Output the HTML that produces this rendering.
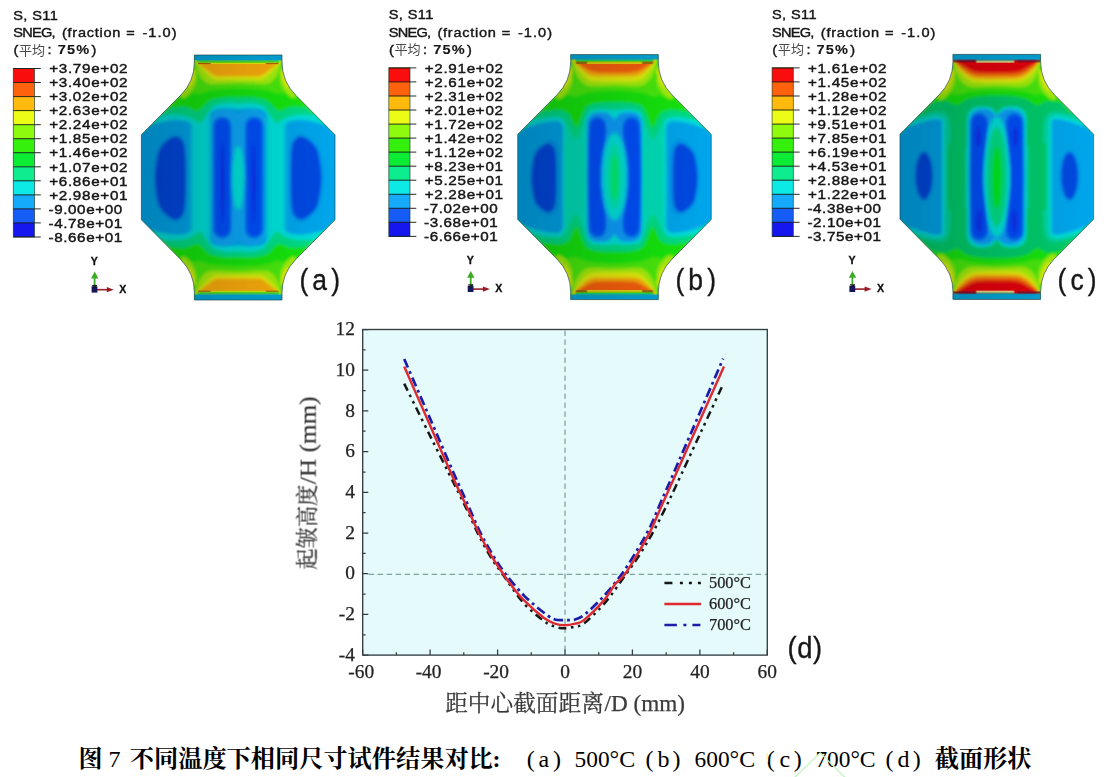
<!DOCTYPE html>
<html><head><meta charset="utf-8"><title>Figure 7</title>
<style>
html,body{margin:0;padding:0;background:#fff;}
body{width:1110px;height:777px;overflow:hidden;font-family:"Liberation Sans",sans-serif;}
svg{position:absolute;left:0;top:0;display:block}
text{white-space:pre}
.ls{font-family:"Liberation Sans",sans-serif}
.lf{font-family:"Liberation Serif",serif}
.lsc{font-family:"Liberation Sans","Noto Sans CJK SC",sans-serif}
.lfc{font-family:"Liberation Serif","Noto Serif CJK SC",serif}
</style></head><body>
<svg width="1110" height="777" viewBox="0 0 1110 777">
<defs>
<linearGradient id="shade" gradientUnits="userSpaceOnUse" x1="141" y1="0" x2="335" y2="0"><stop offset="0" stop-color="#000" stop-opacity="0.21"/><stop offset="0.5" stop-color="#000" stop-opacity="0.10"/><stop offset="1" stop-color="#000" stop-opacity="0"/></linearGradient>
<filter id="blur" x="-10%" y="-10%" width="120%" height="120%"><feGaussianBlur stdDeviation="1.35"/></filter>
<filter id="blur0" x="-30%" y="-10%" width="160%" height="120%"><feGaussianBlur stdDeviation="1.6"/></filter>
<filter id="blur2" x="-10%" y="-10%" width="120%" height="120%"><feGaussianBlur stdDeviation="3"/></filter>
<filter id="soft" x="-5%" y="-5%" width="110%" height="110%"><feGaussianBlur stdDeviation="0.45"/></filter>
<filter id="soft1" x="-5%" y="-5%" width="110%" height="110%"><feGaussianBlur stdDeviation="0.55"/></filter>
<filter id="soft2" x="-5%" y="-5%" width="110%" height="110%"><feGaussianBlur stdDeviation="0.6"/></filter>
</defs>
<g transform="translate(0,0)"><clipPath id="clip1"><path d="M194.4,55 H282 V62 Q282,81.5 295.8,95.3 L335,134.8 V219.8 L295.8,259.4 Q282,273.2 282,292.7 V300 H194.4 V292.7 Q194.4,273.2 180.6,259.4 L141.4,219.8 V134.8 L180.6,95.3 Q194.4,81.5 194.4,62 Z"/></clipPath><g clip-path="url(#clip1)"><g filter="url(#blur)"><rect x="120" y="36" width="240" height="284" rx="0" fill="rgb(0,166,236)"/><rect x="191.5" y="106" width="18.4" height="143" rx="9" fill="rgb(0,224,218)" filter="url(#blur0)"/><g transform="translate(476.4,0) scale(-1,1)"><rect x="191.5" y="106" width="18.4" height="143" rx="9" fill="rgb(0,224,218)" filter="url(#blur0)"/></g><path d="M132,143 L150,125 C153.3,124.2 164,121.2 170,120.5 C176,119.8 181,119.8 186,121 C191,122.2 195.8,129.5 200,128 C204.2,126.5 207.3,115.2 211,112 C214.7,108.8 217.5,109 222,108.5 C226.5,108 232.8,109 238.2,109 C243.6,109 249.9,108 254.4,108.5 C258.9,109 261.7,108.8 265.4,112 C269.1,115.2 272.2,126.5 276.4,128 C280.6,129.5 285.4,122.2 290.4,121 C295.4,119.8 300.4,119.8 306.4,120.5 C312.4,121.2 323.1,124.2 326.4,125 L344.4,143 V30 H132 Z" fill="rgb(0,224,218)"/><path d="M142,133 L160,115 C163.3,115 174.7,114.4 180,115 C185.3,115.6 188.7,117.2 192,118.5 C195.3,119.8 197.3,123.9 200,123 C202.7,122.1 205.7,115.8 208,113 C210.3,110.2 211,107.7 214,106 C217,104.3 222,103.4 226,103 C230,102.6 234.1,103.5 238.2,103.5 C242.3,103.5 246.4,102.6 250.4,103 C254.4,103.4 259.4,104.3 262.4,106 C265.4,107.7 266.1,110.2 268.4,113 C270.7,115.8 273.7,122.1 276.4,123 C279.1,123.9 281.1,119.8 284.4,118.5 C287.7,117.2 291.1,115.6 296.4,115 C301.7,114.4 313.1,115 316.4,115 L334.4,133 V30 H142 Z" fill="rgb(0,222,134)"/><path d="M150,126 L168,108 C170.8,107.8 180.2,106.5 185,107 C189.8,107.5 193.8,111.2 197,111 C200.2,110.8 201.8,107.8 204,106 C206.2,104.2 206.7,101.9 210,100.5 C213.3,99.1 219.3,98 224,97.5 C228.7,97 233.5,97.5 238.2,97.5 C242.9,97.5 247.7,97 252.4,97.5 C257.1,98 263.1,99.1 266.4,100.5 C269.7,101.9 270.2,104.2 272.4,106 C274.6,107.8 276.2,110.8 279.4,111 C282.6,111.2 286.6,107.5 291.4,107 C296.2,106.5 305.6,107.8 308.4,108 L326.4,126 V30 H150 Z" fill="rgb(18,230,12)"/><path d="M163,113.5 L181,95.5 C182.5,95.1 186.8,93.3 190,93 C193.2,92.7 196.3,94 200,93.5 C203.7,93 205.6,90.8 212,90 C218.4,89.2 229.5,88.5 238.2,88.5 C246.9,88.5 258,89.2 264.4,90 C270.8,90.8 272.7,93 276.4,93.5 C280.1,94 283.2,92.7 286.4,93 C289.6,93.3 293.9,95.1 295.4,95.5 L313.4,113.5 V30 H163 Z" fill="rgb(74,234,8)"/><path d="M195.6,50 L195.6,63 C196.2,65 197.8,71.8 199.5,75 C201.2,78.2 203.4,80.9 206,82.4 C208.6,83.9 209.6,83.9 215,84 C220.4,84.1 230.5,83 238.2,83 C245.9,83 256,84.1 261.4,84 C266.8,83.9 267.8,83.9 270.4,82.4 C273,80.9 275.2,78.2 276.9,75 C278.6,71.8 280.1,65 280.8,63 L280.8,50 Z" fill="rgb(164,240,8)"/><ellipse cx="188.4" cy="86.5" rx="5" ry="13" fill="rgb(164,240,8)" transform="rotate(30 188.4 86.5)"/><g transform="translate(476.4,0) scale(-1,1)"><ellipse cx="188.4" cy="86.5" rx="5" ry="13" fill="rgb(164,240,8)" transform="rotate(30 188.4 86.5)"/></g><ellipse cx="191.6" cy="78.5" rx="2.4" ry="10" fill="rgb(228,240,10)" transform="rotate(20 191.6 78.5)"/><g transform="translate(476.4,0) scale(-1,1)"><ellipse cx="191.6" cy="78.5" rx="2.4" ry="10" fill="rgb(228,240,10)" transform="rotate(20 191.6 78.5)"/></g><path d="M196.5,50 L196.5,63 C197.9,64.5 202.1,69.3 205,72 C207.9,74.7 210.5,78.1 214,79.4 C217.5,80.7 222,79.7 226,79.8 C230,79.9 234.1,79.8 238.2,79.8 C242.3,79.8 246.4,79.9 250.4,79.8 C254.4,79.7 258.9,80.7 262.4,79.4 C265.9,78.1 268.5,74.7 271.4,72 C274.3,69.3 278.5,64.5 279.9,63 L279.9,50 Z" fill="rgb(228,240,10)"/><path d="M198.5,50 L198.5,63 C199.9,64.2 204.2,67.9 207,70 C209.8,72.1 212.3,74.8 215.5,75.8 C218.7,76.8 222.2,76.1 226,76.2 C229.8,76.3 234.1,76.2 238.2,76.2 C242.3,76.2 246.6,76.3 250.4,76.2 C254.2,76.1 257.7,76.8 260.9,75.8 C264.1,74.8 266.6,72.1 269.4,70 C272.2,67.9 276.5,64.2 277.9,63 L277.9,50 Z" fill="rgb(250,172,8)"/><g transform="translate(0,354.8) scale(1,-1)"><path d="M132,143 L150,125 C153.3,124.2 164,121.2 170,120.5 C176,119.8 181,119.8 186,121 C191,122.2 195.8,129.5 200,128 C204.2,126.5 207.3,115.2 211,112 C214.7,108.8 217.5,109 222,108.5 C226.5,108 232.8,109 238.2,109 C243.6,109 249.9,108 254.4,108.5 C258.9,109 261.7,108.8 265.4,112 C269.1,115.2 272.2,126.5 276.4,128 C280.6,129.5 285.4,122.2 290.4,121 C295.4,119.8 300.4,119.8 306.4,120.5 C312.4,121.2 323.1,124.2 326.4,125 L344.4,143 V30 H132 Z" fill="rgb(0,224,218)"/><path d="M142,133 L160,115 C163.3,115 174.7,114.4 180,115 C185.3,115.6 188.7,117.2 192,118.5 C195.3,119.8 197.3,123.9 200,123 C202.7,122.1 205.7,115.8 208,113 C210.3,110.2 211,107.7 214,106 C217,104.3 222,103.4 226,103 C230,102.6 234.1,103.5 238.2,103.5 C242.3,103.5 246.4,102.6 250.4,103 C254.4,103.4 259.4,104.3 262.4,106 C265.4,107.7 266.1,110.2 268.4,113 C270.7,115.8 273.7,122.1 276.4,123 C279.1,123.9 281.1,119.8 284.4,118.5 C287.7,117.2 291.1,115.6 296.4,115 C301.7,114.4 313.1,115 316.4,115 L334.4,133 V30 H142 Z" fill="rgb(0,222,134)"/><path d="M150,126 L168,108 C170.8,107.8 180.2,106.5 185,107 C189.8,107.5 193.8,111.2 197,111 C200.2,110.8 201.8,107.8 204,106 C206.2,104.2 206.7,101.9 210,100.5 C213.3,99.1 219.3,98 224,97.5 C228.7,97 233.5,97.5 238.2,97.5 C242.9,97.5 247.7,97 252.4,97.5 C257.1,98 263.1,99.1 266.4,100.5 C269.7,101.9 270.2,104.2 272.4,106 C274.6,107.8 276.2,110.8 279.4,111 C282.6,111.2 286.6,107.5 291.4,107 C296.2,106.5 305.6,107.8 308.4,108 L326.4,126 V30 H150 Z" fill="rgb(18,230,12)"/><path d="M163,113.5 L181,95.5 C182.5,95.1 186.8,93.3 190,93 C193.2,92.7 196.3,94 200,93.5 C203.7,93 205.6,90.8 212,90 C218.4,89.2 229.5,88.5 238.2,88.5 C246.9,88.5 258,89.2 264.4,90 C270.8,90.8 272.7,93 276.4,93.5 C280.1,94 283.2,92.7 286.4,93 C289.6,93.3 293.9,95.1 295.4,95.5 L313.4,113.5 V30 H163 Z" fill="rgb(74,234,8)"/><path d="M195.6,50 L195.6,63 C196.2,65 197.8,71.8 199.5,75 C201.2,78.2 203.4,80.9 206,82.4 C208.6,83.9 209.6,83.9 215,84 C220.4,84.1 230.5,83 238.2,83 C245.9,83 256,84.1 261.4,84 C266.8,83.9 267.8,83.9 270.4,82.4 C273,80.9 275.2,78.2 276.9,75 C278.6,71.8 280.1,65 280.8,63 L280.8,50 Z" fill="rgb(164,240,8)"/><ellipse cx="188.4" cy="86.5" rx="5" ry="13" fill="rgb(164,240,8)" transform="rotate(30 188.4 86.5)"/><g transform="translate(476.4,0) scale(-1,1)"><ellipse cx="188.4" cy="86.5" rx="5" ry="13" fill="rgb(164,240,8)" transform="rotate(30 188.4 86.5)"/></g><ellipse cx="191.6" cy="78.5" rx="2.4" ry="10" fill="rgb(228,240,10)" transform="rotate(20 191.6 78.5)"/><g transform="translate(476.4,0) scale(-1,1)"><ellipse cx="191.6" cy="78.5" rx="2.4" ry="10" fill="rgb(228,240,10)" transform="rotate(20 191.6 78.5)"/></g><path d="M196.5,50 L196.5,63 C197.9,64.5 202.1,69.3 205,72 C207.9,74.7 210.5,78.1 214,79.4 C217.5,80.7 222,79.7 226,79.8 C230,79.9 234.1,79.8 238.2,79.8 C242.3,79.8 246.4,79.9 250.4,79.8 C254.4,79.7 258.9,80.7 262.4,79.4 C265.9,78.1 268.5,74.7 271.4,72 C274.3,69.3 278.5,64.5 279.9,63 L279.9,50 Z" fill="rgb(228,240,10)"/><path d="M198.5,50 L198.5,63 C199.9,64.2 204.2,67.9 207,70 C209.8,72.1 212.3,74.8 215.5,75.8 C218.7,76.8 222.2,76.1 226,76.2 C229.8,76.3 234.1,76.2 238.2,76.2 C242.3,76.2 246.6,76.3 250.4,76.2 C254.2,76.1 257.7,76.8 260.9,75.8 C264.1,74.8 266.6,72.1 269.4,70 C272.2,67.9 276.5,64.2 277.9,63 L277.9,50 Z" fill="rgb(250,172,8)"/></g><path d="M211.2,121.4 Q211.2,109.4 223.2,109.4 L226.2,109.4 Q234.2,109.4 238.2,115.4 Q242.2,109.4 250.2,109.4 L253.2,109.4 Q265.2,109.4 265.2,121.4 V233.4 Q265.2,245.4 253.2,245.4 L250.2,245.4 Q242.2,245.4 238.2,239.4 Q234.2,245.4 226.2,245.4 L223.2,245.4 Q211.2,245.4 211.2,233.4 Z" fill="rgb(8,166,246)"/><rect x="213" y="116.6" width="18.4" height="121.8" rx="9.2" fill="rgb(6,116,244)"/><g transform="translate(476.4,0) scale(-1,1)"><rect x="213" y="116.6" width="18.4" height="121.8" rx="9.2" fill="rgb(6,116,244)"/></g><rect x="214.4" y="118.4" width="15.6" height="118.2" rx="7.8" fill="rgb(5,80,250)"/><g transform="translate(476.4,0) scale(-1,1)"><rect x="214.4" y="118.4" width="15.6" height="118.2" rx="7.8" fill="rgb(5,80,250)"/></g><ellipse cx="238.2" cy="178" rx="7.6" ry="35" fill="rgb(8,170,244)"/><ellipse cx="238.2" cy="178" rx="5.8" ry="32" fill="rgb(0,224,218)"/><ellipse cx="222.6" cy="183" rx="1.3" ry="40" fill="rgb(10,30,234)"/><g transform="translate(476.4,0) scale(-1,1)"><ellipse cx="222.6" cy="183" rx="1.3" ry="40" fill="rgb(10,30,234)"/></g><path d="M176.6,134 C178.9,134.1 180.8,135.5 182.3,137.1 C183.8,138.6 184.9,139.8 185.7,143.4 C186.5,147 186.9,153.1 187.2,158.8 C187.5,164.6 187.4,171.6 187.4,178 C187.4,184.4 187.5,191.4 187.2,197.2 C186.9,202.9 186.5,209 185.7,212.6 C184.9,216.2 183.8,217.4 182.3,218.9 C180.8,220.5 178.9,221.9 176.6,222 C174.4,222.1 171.6,220.9 169,219.4 C166.4,217.8 163.1,215 161.1,212.8 C159.1,210.5 158.1,209.2 156.9,205.6 C155.7,202.1 154.6,196 153.9,191.4 C153.3,186.8 152.8,182.5 152.8,178 C152.8,173.5 153.3,169.2 153.9,164.6 C154.6,160 155.7,153.9 156.9,150.4 C158.1,146.8 159.1,145.5 161.1,143.2 C163.1,141 166.4,138.2 169,136.6 C171.6,135.1 174.4,133.9 176.6,134Z" fill="rgb(0,150,234)"/><g transform="translate(476.4,0) scale(-1,1)"><path d="M176.6,134 C178.9,134.1 180.8,135.5 182.3,137.1 C183.8,138.6 184.9,139.8 185.7,143.4 C186.5,147 186.9,153.1 187.2,158.8 C187.5,164.6 187.4,171.6 187.4,178 C187.4,184.4 187.5,191.4 187.2,197.2 C186.9,202.9 186.5,209 185.7,212.6 C184.9,216.2 183.8,217.4 182.3,218.9 C180.8,220.5 178.9,221.9 176.6,222 C174.4,222.1 171.6,220.9 169,219.4 C166.4,217.8 163.1,215 161.1,212.8 C159.1,210.5 158.1,209.2 156.9,205.6 C155.7,202.1 154.6,196 153.9,191.4 C153.3,186.8 152.8,182.5 152.8,178 C152.8,173.5 153.3,169.2 153.9,164.6 C154.6,160 155.7,153.9 156.9,150.4 C158.1,146.8 159.1,145.5 161.1,143.2 C163.1,141 166.4,138.2 169,136.6 C171.6,135.1 174.4,133.9 176.6,134Z" fill="rgb(0,150,234)"/></g><path d="M176.1,136.5 C178,136.6 179.7,137.9 181.1,139.4 C182.4,140.9 183.4,142 184.1,145.4 C184.8,148.8 185.2,154.5 185.4,159.9 C185.6,165.3 185.6,172 185.6,178 C185.6,184 185.6,190.7 185.4,196.1 C185.2,201.5 184.8,207.2 184.1,210.6 C183.4,214 182.4,215.1 181.1,216.6 C179.7,218.1 178,219.4 176.1,219.5 C174.1,219.6 171.6,218.5 169.3,217 C167,215.6 164.1,212.9 162.3,210.8 C160.5,208.6 159.7,207.4 158.6,204.1 C157.6,200.7 156.6,195 156,190.6 C155.4,186.3 155,182.2 155,178 C155,173.8 155.4,169.7 156,165.4 C156.6,161 157.6,155.3 158.6,151.9 C159.7,148.6 160.5,147.4 162.3,145.2 C164.1,143.1 167,140.4 169.3,139 C171.6,137.5 174.1,136.4 176.1,136.5Z" fill="rgb(0,72,226)"/><g transform="translate(476.4,0) scale(-1,1)"><path d="M176.1,136.5 C178,136.6 179.7,137.9 181.1,139.4 C182.4,140.9 183.4,142 184.1,145.4 C184.8,148.8 185.2,154.5 185.4,159.9 C185.6,165.3 185.6,172 185.6,178 C185.6,184 185.6,190.7 185.4,196.1 C185.2,201.5 184.8,207.2 184.1,210.6 C183.4,214 182.4,215.1 181.1,216.6 C179.7,218.1 178,219.4 176.1,219.5 C174.1,219.6 171.6,218.5 169.3,217 C167,215.6 164.1,212.9 162.3,210.8 C160.5,208.6 159.7,207.4 158.6,204.1 C157.6,200.7 156.6,195 156,190.6 C155.4,186.3 155,182.2 155,178 C155,173.8 155.4,169.7 156,165.4 C156.6,161 157.6,155.3 158.6,151.9 C159.7,148.6 160.5,147.4 162.3,145.2 C164.1,143.1 167,140.4 169.3,139 C171.6,137.5 174.1,136.4 176.1,136.5Z" fill="rgb(0,72,226)"/></g></g><g filter="url(#soft2)"><rect x="186" y="44" width="104" height="16.3" rx="0" fill="rgb(0,166,218)"/><rect x="197.5" y="60.3" width="81.4" height="1.4" rx="0" fill="rgb(0,214,150)"/><rect x="197.5" y="61.5" width="81.4" height="1.4" rx="0" fill="rgb(60,226,20)"/><rect x="197.5" y="62.7" width="81.4" height="1.3" rx="0" fill="rgb(226,236,16)"/><rect x="198" y="63" width="12.6" height="1.1" rx="0" fill="rgb(176,60,16)" fill-opacity="0.8"/><g transform="translate(476.4,0) scale(-1,1)"><rect x="198" y="63" width="12.6" height="1.1" rx="0" fill="rgb(176,60,16)" fill-opacity="0.8"/></g><g transform="translate(0,354.8) scale(1,-1)"><rect x="186" y="44" width="104" height="16.3" rx="0" fill="rgb(0,166,218)"/><rect x="197.5" y="60.3" width="81.4" height="1.4" rx="0" fill="rgb(0,214,150)"/><rect x="197.5" y="61.5" width="81.4" height="1.4" rx="0" fill="rgb(60,226,20)"/><rect x="197.5" y="62.7" width="81.4" height="1.3" rx="0" fill="rgb(226,236,16)"/><rect x="198" y="63" width="12.6" height="1.1" rx="0" fill="rgb(176,60,16)" fill-opacity="0.8"/><g transform="translate(476.4,0) scale(-1,1)"><rect x="198" y="63" width="12.6" height="1.1" rx="0" fill="rgb(176,60,16)" fill-opacity="0.8"/></g></g></g><rect x="130" y="45" width="220" height="265" fill="url(#shade)"/></g><path d="M194.4,55 H282 V62 Q282,81.5 295.8,95.3 L335,134.8 V219.8 L295.8,259.4 Q282,273.2 282,292.7 V300 H194.4 V292.7 Q194.4,273.2 180.6,259.4 L141.4,219.8 V134.8 L180.6,95.3 Q194.4,81.5 194.4,62 Z" fill="none" stroke="rgb(30,70,70)" stroke-opacity=".75" stroke-width="0.9"/></g>
<g transform="translate(376.3,-0.4)"><clipPath id="clip2"><path d="M194.4,55 H282 V62 Q282,81.5 295.8,95.3 L335,134.8 V219.8 L295.8,259.4 Q282,273.2 282,292.7 V300 H194.4 V292.7 Q194.4,273.2 180.6,259.4 L141.4,219.8 V134.8 L180.6,95.3 Q194.4,81.5 194.4,62 Z"/></clipPath><g clip-path="url(#clip2)"><g filter="url(#blur)"><rect x="120" y="36" width="240" height="284" rx="0" fill="rgb(0,166,236)"/><path d="M129,147 L147,129 C150,128.1 159.7,124.8 165,123.5 C170.3,122.2 175.8,121.5 179,121.5 C182.2,121.5 183.1,122.1 184.5,123.5 C185.9,124.9 186.9,126.6 187.6,130 C188.2,133.4 188.3,141.7 188.4,144 L288,144 C288.1,141.7 288.1,133.4 288.8,130 C289.4,126.6 290.5,124.9 291.9,123.5 C293.3,122.1 294.1,121.5 297.4,121.5 C300.6,121.5 306.1,122.2 311.4,123.5 C316.7,124.8 326.4,128.1 329.4,129 L347.4,147 V30 H129 Z" fill="rgb(0,224,218)"/><g transform="translate(0,354.8) scale(1,-1)"><path d="M129,147 L147,129 C150,128.1 159.7,124.8 165,123.5 C170.3,122.2 175.8,121.5 179,121.5 C182.2,121.5 183.1,122.1 184.5,123.5 C185.9,124.9 186.9,126.6 187.6,130 C188.2,133.4 188.3,141.7 188.4,144 L288,144 C288.1,141.7 288.1,133.4 288.8,130 C289.4,126.6 290.5,124.9 291.9,123.5 C293.3,122.1 294.1,121.5 297.4,121.5 C300.6,121.5 306.1,122.2 311.4,123.5 C316.7,124.8 326.4,128.1 329.4,129 L347.4,147 V30 H129 Z" fill="rgb(0,224,218)"/></g><rect x="186.5" y="100" width="25" height="155" rx="6" fill="rgb(0,224,218)"/><rect x="188.5" y="100" width="21" height="155" rx="6" fill="rgb(0,222,184)"/><g transform="translate(476.4,0) scale(-1,1)"><rect x="186.5" y="100" width="25" height="155" rx="6" fill="rgb(0,224,218)"/><rect x="188.5" y="100" width="21" height="155" rx="6" fill="rgb(0,222,184)"/></g><path d="M137,138.5 L155,120.5 C158.3,120 169.8,117.8 175,117.5 C180.2,117.2 183.2,117.2 186,119 C188.8,120.8 189.7,124.5 192,128 C194.3,131.5 197.3,140.7 200,140 C202.7,139.3 205.8,128.6 208,124 C210.2,119.4 210,114.9 213,112.5 C216,110.1 221.8,109.8 226,109.5 C230.2,109.2 234.1,110.5 238.2,110.5 C242.3,110.5 246.2,109.2 250.4,109.5 C254.6,109.8 260.4,110.1 263.4,112.5 C266.4,114.9 266.2,119.4 268.4,124 C270.6,128.6 273.7,139.3 276.4,140 C279.1,140.7 282.1,131.5 284.4,128 C286.7,124.5 287.6,120.8 290.4,119 C293.2,117.2 296.2,117.2 301.4,117.5 C306.6,117.8 318.1,120 321.4,120.5 L339.4,138.5 V30 H137 Z" fill="rgb(0,222,134)"/><path d="M146,130 L164,112 C167,111.8 177.3,110.2 182,110.5 C186.7,110.8 189,111.1 192,114 C195,116.9 197.5,128.2 200,128 C202.5,127.8 205,116.7 207,113 C209,109.3 209,107.7 212,106 C215,104.3 220.6,103.5 225,103 C229.4,102.5 233.8,102.7 238.2,102.7 C242.6,102.7 247,102.5 251.4,103 C255.8,103.5 261.4,104.3 264.4,106 C267.4,107.7 267.4,109.3 269.4,113 C271.4,116.7 273.9,127.8 276.4,128 C278.9,128.2 281.4,116.9 284.4,114 C287.4,111.1 289.7,110.8 294.4,110.5 C299.1,110.2 309.4,111.8 312.4,112 L330.4,130 V30 H146 Z" fill="rgb(18,230,12)"/><path d="M161,115 L179,97 C180.8,96.8 186.5,95.5 190,95.5 C193.5,95.5 196.3,97.4 200,97 C203.7,96.6 205.6,94 212,93 C218.4,92 229.5,91 238.2,91 C246.9,91 258,92 264.4,93 C270.8,94 272.7,96.6 276.4,97 C280.1,97.4 282.9,95.5 286.4,95.5 C289.9,95.5 295.6,96.8 297.4,97 L315.4,115 V30 H161 Z" fill="rgb(74,234,8)"/><path d="M196.4,50 L196.4,63 C197,65 198.3,71.6 200,75 C201.7,78.4 204,81.6 206.5,83.5 C209,85.4 209.7,86.2 215,86.6 C220.3,87 230.5,85.8 238.2,85.8 C245.9,85.8 256.1,87 261.4,86.6 C266.7,86.2 267.4,85.4 269.9,83.5 C272.4,81.6 274.7,78.4 276.4,75 C278.1,71.6 279.4,65 280,63 L280,50 Z" fill="rgb(164,240,8)"/><ellipse cx="187.6" cy="88" rx="5.5" ry="13" fill="rgb(164,240,8)" transform="rotate(32 187.6 88)"/><g transform="translate(476.4,0) scale(-1,1)"><ellipse cx="187.6" cy="88" rx="5.5" ry="13" fill="rgb(164,240,8)" transform="rotate(32 187.6 88)"/></g><ellipse cx="191.6" cy="78" rx="2.6" ry="11" fill="rgb(228,240,10)" transform="rotate(20 191.6 78)"/><g transform="translate(476.4,0) scale(-1,1)"><ellipse cx="191.6" cy="78" rx="2.6" ry="11" fill="rgb(228,240,10)" transform="rotate(20 191.6 78)"/></g><path d="M197.4,50 L197.4,63 C198.3,64.3 200.9,68.4 203,71 C205.1,73.6 207.5,76.8 210,78.6 C212.5,80.4 213.3,81 218,81.6 C222.7,82.2 231.5,82 238.2,82 C244.9,82 253.7,82.2 258.4,81.6 C263.1,81 263.9,80.4 266.4,78.6 C268.9,76.8 271.3,73.6 273.4,71 C275.5,68.4 278.1,64.3 279,63 L279,50 Z" fill="rgb(228,240,10)"/><path d="M198.6,50 L198.6,63 C199.7,64.1 202.8,67.5 205,69.5 C207.2,71.5 209.5,73.8 212,75 C214.5,76.2 215.6,76.5 220,76.8 C224.4,77.1 232.1,77 238.2,77 C244.3,77 252,77.1 256.4,76.8 C260.8,76.5 261.9,76.2 264.4,75 C266.9,73.8 269.2,71.5 271.4,69.5 C273.6,67.5 276.7,64.1 277.8,63 L277.8,50 Z" fill="rgb(250,172,8)"/><path d="M199.8,50 L199.8,63 C201,63.8 204.6,66.1 207,67.5 C209.4,68.9 211.5,70.3 214,71.2 C216.5,72.1 218,72.5 222,72.8 C226,73.1 232.8,73.2 238.2,73.2 C243.6,73.2 250.4,73.1 254.4,72.8 C258.4,72.5 259.9,72.1 262.4,71.2 C264.9,70.3 267,68.9 269.4,67.5 C271.8,66.1 275.4,63.8 276.6,63 L276.6,50 Z" fill="rgb(246,94,8)"/><g transform="translate(0,354.8) scale(1,-1)"><path d="M137,138.5 L155,120.5 C158.3,120 169.8,117.8 175,117.5 C180.2,117.2 183.2,117.2 186,119 C188.8,120.8 189.7,124.5 192,128 C194.3,131.5 197.3,140.7 200,140 C202.7,139.3 205.8,128.6 208,124 C210.2,119.4 210,114.9 213,112.5 C216,110.1 221.8,109.8 226,109.5 C230.2,109.2 234.1,110.5 238.2,110.5 C242.3,110.5 246.2,109.2 250.4,109.5 C254.6,109.8 260.4,110.1 263.4,112.5 C266.4,114.9 266.2,119.4 268.4,124 C270.6,128.6 273.7,139.3 276.4,140 C279.1,140.7 282.1,131.5 284.4,128 C286.7,124.5 287.6,120.8 290.4,119 C293.2,117.2 296.2,117.2 301.4,117.5 C306.6,117.8 318.1,120 321.4,120.5 L339.4,138.5 V30 H137 Z" fill="rgb(0,222,134)"/><path d="M146,130 L164,112 C167,111.8 177.3,110.2 182,110.5 C186.7,110.8 189,111.1 192,114 C195,116.9 197.5,128.2 200,128 C202.5,127.8 205,116.7 207,113 C209,109.3 209,107.7 212,106 C215,104.3 220.6,103.5 225,103 C229.4,102.5 233.8,102.7 238.2,102.7 C242.6,102.7 247,102.5 251.4,103 C255.8,103.5 261.4,104.3 264.4,106 C267.4,107.7 267.4,109.3 269.4,113 C271.4,116.7 273.9,127.8 276.4,128 C278.9,128.2 281.4,116.9 284.4,114 C287.4,111.1 289.7,110.8 294.4,110.5 C299.1,110.2 309.4,111.8 312.4,112 L330.4,130 V30 H146 Z" fill="rgb(18,230,12)"/><path d="M161,115 L179,97 C180.8,96.8 186.5,95.5 190,95.5 C193.5,95.5 196.3,97.4 200,97 C203.7,96.6 205.6,94 212,93 C218.4,92 229.5,91 238.2,91 C246.9,91 258,92 264.4,93 C270.8,94 272.7,96.6 276.4,97 C280.1,97.4 282.9,95.5 286.4,95.5 C289.9,95.5 295.6,96.8 297.4,97 L315.4,115 V30 H161 Z" fill="rgb(74,234,8)"/><path d="M196.4,50 L196.4,63 C197,65 198.3,71.6 200,75 C201.7,78.4 204,81.6 206.5,83.5 C209,85.4 209.7,86.2 215,86.6 C220.3,87 230.5,85.8 238.2,85.8 C245.9,85.8 256.1,87 261.4,86.6 C266.7,86.2 267.4,85.4 269.9,83.5 C272.4,81.6 274.7,78.4 276.4,75 C278.1,71.6 279.4,65 280,63 L280,50 Z" fill="rgb(164,240,8)"/><ellipse cx="187.6" cy="88" rx="5.5" ry="13" fill="rgb(164,240,8)" transform="rotate(32 187.6 88)"/><g transform="translate(476.4,0) scale(-1,1)"><ellipse cx="187.6" cy="88" rx="5.5" ry="13" fill="rgb(164,240,8)" transform="rotate(32 187.6 88)"/></g><ellipse cx="191.6" cy="78" rx="2.6" ry="11" fill="rgb(228,240,10)" transform="rotate(20 191.6 78)"/><g transform="translate(476.4,0) scale(-1,1)"><ellipse cx="191.6" cy="78" rx="2.6" ry="11" fill="rgb(228,240,10)" transform="rotate(20 191.6 78)"/></g><path d="M197.4,50 L197.4,63 C198.3,64.3 200.9,68.4 203,71 C205.1,73.6 207.5,76.8 210,78.6 C212.5,80.4 213.3,81 218,81.6 C222.7,82.2 231.5,82 238.2,82 C244.9,82 253.7,82.2 258.4,81.6 C263.1,81 263.9,80.4 266.4,78.6 C268.9,76.8 271.3,73.6 273.4,71 C275.5,68.4 278.1,64.3 279,63 L279,50 Z" fill="rgb(228,240,10)"/><path d="M198.6,50 L198.6,63 C199.7,64.1 202.8,67.5 205,69.5 C207.2,71.5 209.5,73.8 212,75 C214.5,76.2 215.6,76.5 220,76.8 C224.4,77.1 232.1,77 238.2,77 C244.3,77 252,77.1 256.4,76.8 C260.8,76.5 261.9,76.2 264.4,75 C266.9,73.8 269.2,71.5 271.4,69.5 C273.6,67.5 276.7,64.1 277.8,63 L277.8,50 Z" fill="rgb(250,172,8)"/><path d="M199.8,50 L199.8,63 C201,63.8 204.6,66.1 207,67.5 C209.4,68.9 211.5,70.3 214,71.2 C216.5,72.1 218,72.5 222,72.8 C226,73.1 232.8,73.2 238.2,73.2 C243.6,73.2 250.4,73.1 254.4,72.8 C258.4,72.5 259.9,72.1 262.4,71.2 C264.9,70.3 267,68.9 269.4,67.5 C271.8,66.1 275.4,63.8 276.6,63 L276.6,50 Z" fill="rgb(246,94,8)"/></g><path d="M209.2,123.8 Q209.2,110.8 222.2,110.8 L226.2,110.8 Q234.2,110.8 238.2,116.8 Q242.2,110.8 250.2,110.8 L254.2,110.8 Q267.2,110.8 267.2,123.8 V231 Q267.2,244 254.2,244 L250.2,244 Q242.2,244 238.2,238 Q234.2,244 226.2,244 L222.2,244 Q209.2,244 209.2,231 Z" fill="rgb(0,224,218)"/><path d="M210.8,125.6 Q210.8,112.6 223.8,112.6 L226.2,112.6 Q234.2,112.6 238.2,120.6 Q242.2,112.6 250.2,112.6 L252.6,112.6 Q265.6,112.6 265.6,125.6 V229.2 Q265.6,242.2 252.6,242.2 L250.2,242.2 Q242.2,242.2 238.2,234.2 Q234.2,242.2 226.2,242.2 L223.8,242.2 Q210.8,242.2 210.8,229.2 Z" fill="rgb(10,156,250)"/><path d="M221.2,117 C223.5,117 226.7,118.6 228.2,120.4 C229.7,122.2 229.9,125.1 230.2,128 C230.4,130.9 230.2,133.6 229.7,138 C229.2,142.4 227.8,149.2 227.2,154.5 C226.5,159.8 226.1,165.8 225.8,169.6 C225.5,173.5 225.6,174.9 225.6,177.5 C225.6,180.1 225.5,181.5 225.8,185.4 C226.1,189.2 226.5,195.2 227.2,200.5 C227.8,205.8 229.2,212.6 229.7,217 C230.2,221.4 230.4,224.1 230.2,227 C229.9,229.9 229.7,232.8 228.2,234.6 C226.7,236.4 223.5,238 221.2,238 C218.9,238 215.7,236.4 214.2,234.6 C212.7,232.8 212.7,232 212.3,227 C211.8,222 211.7,213 211.5,204.7 C211.3,196.5 211,186.6 211,177.5 C211,168.4 211.3,158.5 211.5,150.3 C211.7,142 211.8,133 212.3,128 C212.7,123 212.7,122.2 214.2,120.4 C215.7,118.6 218.9,117 221.2,117Z" fill="rgb(6,116,244)"/><g transform="translate(476.4,0) scale(-1,1)"><path d="M221.2,117 C223.5,117 226.7,118.6 228.2,120.4 C229.7,122.2 229.9,125.1 230.2,128 C230.4,130.9 230.2,133.6 229.7,138 C229.2,142.4 227.8,149.2 227.2,154.5 C226.5,159.8 226.1,165.8 225.8,169.6 C225.5,173.5 225.6,174.9 225.6,177.5 C225.6,180.1 225.5,181.5 225.8,185.4 C226.1,189.2 226.5,195.2 227.2,200.5 C227.8,205.8 229.2,212.6 229.7,217 C230.2,221.4 230.4,224.1 230.2,227 C229.9,229.9 229.7,232.8 228.2,234.6 C226.7,236.4 223.5,238 221.2,238 C218.9,238 215.7,236.4 214.2,234.6 C212.7,232.8 212.7,232 212.3,227 C211.8,222 211.7,213 211.5,204.7 C211.3,196.5 211,186.6 211,177.5 C211,168.4 211.3,158.5 211.5,150.3 C211.7,142 211.8,133 212.3,128 C212.7,123 212.7,122.2 214.2,120.4 C215.7,118.6 218.9,117 221.2,117Z" fill="rgb(6,116,244)"/></g><ellipse cx="238.2" cy="177" rx="13.8" ry="46" fill="rgb(8,170,244)"/><ellipse cx="238.2" cy="177" rx="11.8" ry="43" fill="rgb(0,224,218)"/><ellipse cx="238.2" cy="177" rx="7.4" ry="33" fill="rgb(0,228,176)"/><ellipse cx="238.2" cy="178" rx="4" ry="23" fill="rgb(0,238,112)"/><path d="M221.3,118.6 C223.2,118.6 225.7,120.2 227,122 C228.3,123.8 228.8,126.7 229,129.6 C229.2,132.5 229,135.3 228.5,139.6 C228,143.9 226.6,150.1 225.9,155.1 C225.2,160.2 224.8,166.2 224.5,169.9 C224.2,173.6 224.3,175 224.3,177.6 C224.3,180.1 224.2,181.5 224.5,185.2 C224.8,188.9 225.2,194.9 225.9,200 C226.6,205 228,211.2 228.5,215.5 C229,219.8 229.2,222.6 229,225.5 C228.8,228.4 228.3,231.3 227,233.1 C225.7,234.9 223.2,236.5 221.3,236.5 C219.4,236.5 216.9,234.9 215.6,233.1 C214.3,231.3 214.2,230.3 213.7,225.5 C213.2,220.7 213,212.1 212.8,204.1 C212.6,196.1 212.3,186.4 212.3,177.6 C212.3,168.7 212.6,159 212.8,151 C213,143 213.2,134.4 213.7,129.6 C214.2,124.8 214.3,123.8 215.6,122 C216.9,120.2 219.4,118.6 221.3,118.6Z" fill="rgb(5,80,250)"/><g transform="translate(476.4,0) scale(-1,1)"><path d="M221.3,118.6 C223.2,118.6 225.7,120.2 227,122 C228.3,123.8 228.8,126.7 229,129.6 C229.2,132.5 229,135.3 228.5,139.6 C228,143.9 226.6,150.1 225.9,155.1 C225.2,160.2 224.8,166.2 224.5,169.9 C224.2,173.6 224.3,175 224.3,177.6 C224.3,180.1 224.2,181.5 224.5,185.2 C224.8,188.9 225.2,194.9 225.9,200 C226.6,205 228,211.2 228.5,215.5 C229,219.8 229.2,222.6 229,225.5 C228.8,228.4 228.3,231.3 227,233.1 C225.7,234.9 223.2,236.5 221.3,236.5 C219.4,236.5 216.9,234.9 215.6,233.1 C214.3,231.3 214.2,230.3 213.7,225.5 C213.2,220.7 213,212.1 212.8,204.1 C212.6,196.1 212.3,186.4 212.3,177.6 C212.3,168.7 212.6,159 212.8,151 C213,143 213.2,134.4 213.7,129.6 C214.2,124.8 214.3,123.8 215.6,122 C216.9,120.2 219.4,118.6 221.3,118.6Z" fill="rgb(5,80,250)"/></g><path d="M174,140 C175.9,140.1 177.6,141.3 178.9,142.7 C180.3,144 181.2,145 181.9,148.1 C182.6,151.3 183,156.5 183.2,161.4 C183.4,166.4 183.3,172.5 183.3,178 C183.3,183.5 183.4,189.6 183.2,194.6 C183,199.5 182.6,204.7 181.9,207.9 C181.2,211 180.3,212 178.9,213.3 C177.6,214.7 175.9,215.9 174,216 C172,216.1 169.6,215.1 167.3,213.7 C165,212.4 162.2,210 160.4,208 C158.7,206 157.8,204.9 156.8,201.9 C155.7,198.8 154.8,193.5 154.2,189.6 C153.6,185.6 153.2,181.9 153.2,178 C153.2,174.1 153.6,170.4 154.2,166.4 C154.8,162.5 155.7,157.2 156.8,154.1 C157.8,151.1 158.7,150 160.4,148 C162.2,146 165,143.6 167.3,142.3 C169.6,140.9 172,139.9 174,140Z" fill="rgb(0,150,234)"/><g transform="translate(476.4,0) scale(-1,1)"><path d="M174,140 C175.9,140.1 177.6,141.3 178.9,142.7 C180.3,144 181.2,145 181.9,148.1 C182.6,151.3 183,156.5 183.2,161.4 C183.4,166.4 183.3,172.5 183.3,178 C183.3,183.5 183.4,189.6 183.2,194.6 C183,199.5 182.6,204.7 181.9,207.9 C181.2,211 180.3,212 178.9,213.3 C177.6,214.7 175.9,215.9 174,216 C172,216.1 169.6,215.1 167.3,213.7 C165,212.4 162.2,210 160.4,208 C158.7,206 157.8,204.9 156.8,201.9 C155.7,198.8 154.8,193.5 154.2,189.6 C153.6,185.6 153.2,181.9 153.2,178 C153.2,174.1 153.6,170.4 154.2,166.4 C154.8,162.5 155.7,157.2 156.8,154.1 C157.8,151.1 158.7,150 160.4,148 C162.2,146 165,143.6 167.3,142.3 C169.6,140.9 172,139.9 174,140Z" fill="rgb(0,150,234)"/></g><path d="M172.2,144 C173.8,144.1 175.2,145.2 176.3,146.4 C177.4,147.6 178.2,148.5 178.7,151.3 C179.3,154.1 179.6,158.8 179.8,163.3 C180,167.8 179.9,173.3 179.9,178.2 C179.9,183.2 180,188.7 179.8,193.2 C179.6,197.7 179.3,202.4 178.7,205.2 C178.2,208 177.4,208.9 176.3,210.1 C175.2,211.3 173.8,212.4 172.2,212.5 C170.7,212.6 168.6,211.6 166.8,210.4 C164.9,209.2 162.6,207.1 161.1,205.3 C159.7,203.5 159,202.5 158.1,199.8 C157.3,197 156.5,192.2 156,188.7 C155.5,185.1 155.2,181.7 155.2,178.2 C155.2,174.8 155.5,171.4 156,167.8 C156.5,164.3 157.3,159.5 158.1,156.7 C159,154 159.7,153 161.1,151.2 C162.6,149.4 164.9,147.3 166.8,146.1 C168.6,144.9 170.7,143.9 172.2,144Z" fill="rgb(0,72,226)"/><g transform="translate(476.4,0) scale(-1,1)"><path d="M172.2,144 C173.8,144.1 175.2,145.2 176.3,146.4 C177.4,147.6 178.2,148.5 178.7,151.3 C179.3,154.1 179.6,158.8 179.8,163.3 C180,167.8 179.9,173.3 179.9,178.2 C179.9,183.2 180,188.7 179.8,193.2 C179.6,197.7 179.3,202.4 178.7,205.2 C178.2,208 177.4,208.9 176.3,210.1 C175.2,211.3 173.8,212.4 172.2,212.5 C170.7,212.6 168.6,211.6 166.8,210.4 C164.9,209.2 162.6,207.1 161.1,205.3 C159.7,203.5 159,202.5 158.1,199.8 C157.3,197 156.5,192.2 156,188.7 C155.5,185.1 155.2,181.7 155.2,178.2 C155.2,174.8 155.5,171.4 156,167.8 C156.5,164.3 157.3,159.5 158.1,156.7 C159,154 159.7,153 161.1,151.2 C162.6,149.4 164.9,147.3 166.8,146.1 C168.6,144.9 170.7,143.9 172.2,144Z" fill="rgb(0,72,226)"/></g></g><g filter="url(#soft2)"><rect x="186" y="44" width="104" height="15.8" rx="0" fill="rgb(0,166,218)"/><rect x="199.6" y="59.8" width="77.2" height="1.5" rx="0" fill="rgb(0,214,150)"/><rect x="199.6" y="61.1" width="77.2" height="1.4" rx="0" fill="rgb(60,226,20)"/><rect x="199.6" y="62.4" width="77.2" height="1.4" rx="0" fill="rgb(226,236,16)"/><rect x="199.8" y="62.4" width="10.8" height="1.2" rx="0" fill="rgb(96,20,12)" fill-opacity="0.85"/><g transform="translate(476.4,0) scale(-1,1)"><rect x="199.8" y="62.4" width="10.8" height="1.2" rx="0" fill="rgb(96,20,12)" fill-opacity="0.85"/></g><g transform="translate(0,354.8) scale(1,-1)"><rect x="186" y="44" width="104" height="15.8" rx="0" fill="rgb(0,166,218)"/><rect x="199.6" y="59.8" width="77.2" height="1.5" rx="0" fill="rgb(0,214,150)"/><rect x="199.6" y="61.1" width="77.2" height="1.4" rx="0" fill="rgb(60,226,20)"/><rect x="199.6" y="62.4" width="77.2" height="1.4" rx="0" fill="rgb(226,236,16)"/><rect x="199.8" y="62.4" width="10.8" height="1.2" rx="0" fill="rgb(96,20,12)" fill-opacity="0.85"/><g transform="translate(476.4,0) scale(-1,1)"><rect x="199.8" y="62.4" width="10.8" height="1.2" rx="0" fill="rgb(96,20,12)" fill-opacity="0.85"/></g></g></g><rect x="130" y="45" width="220" height="265" fill="url(#shade)"/></g><path d="M194.4,55 H282 V62 Q282,81.5 295.8,95.3 L335,134.8 V219.8 L295.8,259.4 Q282,273.2 282,292.7 V300 H194.4 V292.7 Q194.4,273.2 180.6,259.4 L141.4,219.8 V134.8 L180.6,95.3 Q194.4,81.5 194.4,62 Z" fill="none" stroke="rgb(30,70,70)" stroke-opacity=".75" stroke-width="0.9"/></g>
<g transform="translate(758.6,-0.6)"><clipPath id="clip3"><path d="M194.4,55 H282 V62 Q282,81.5 295.8,95.3 L335,134.8 V219.8 L295.8,259.4 Q282,273.2 282,292.7 V300 H194.4 V292.7 Q194.4,273.2 180.6,259.4 L141.4,219.8 V134.8 L180.6,95.3 Q194.4,81.5 194.4,62 Z"/></clipPath><g clip-path="url(#clip3)"><g filter="url(#blur)"><rect x="120" y="36" width="240" height="284" rx="0" fill="rgb(0,166,236)"/><path d="M130,146 L148,128 C151,127 161,123.4 166,122 C171,120.6 175.1,119.6 178,119.5 C180.9,119.4 182.2,120.1 183.5,121.5 C184.8,122.9 185.5,124.6 186,128 C186.5,131.4 186.5,139.7 186.6,142 L289.8,142 C289.9,139.7 289.9,131.4 290.4,128 C290.9,124.6 291.6,122.9 292.9,121.5 C294.2,120.1 295.5,119.4 298.4,119.5 C301.3,119.6 305.4,120.6 310.4,122 C315.4,123.4 325.4,127 328.4,128 L346.4,146 V30 H130 Z" fill="rgb(0,224,218)"/><g transform="translate(0,354.8) scale(1,-1)"><path d="M130,146 L148,128 C151,127 161,123.4 166,122 C171,120.6 175.1,119.6 178,119.5 C180.9,119.4 182.2,120.1 183.5,121.5 C184.8,122.9 185.5,124.6 186,128 C186.5,131.4 186.5,139.7 186.6,142 L289.8,142 C289.9,139.7 289.9,131.4 290.4,128 C290.9,124.6 291.6,122.9 292.9,121.5 C294.2,120.1 295.5,119.4 298.4,119.5 C301.3,119.6 305.4,120.6 310.4,122 C315.4,123.4 325.4,127 328.4,128 L346.4,146 V30 H130 Z" fill="rgb(0,224,218)"/></g><rect x="183.4" y="100" width="28.6" height="155" rx="6" fill="rgb(0,224,218)"/><rect x="186.4" y="100" width="22.6" height="155" rx="6" fill="rgb(0,214,160)"/><rect x="189" y="100" width="17.4" height="155" rx="6" fill="rgb(0,204,108)"/><g transform="translate(476.4,0) scale(-1,1)"><rect x="183.4" y="100" width="28.6" height="155" rx="6" fill="rgb(0,224,218)"/><rect x="186.4" y="100" width="22.6" height="155" rx="6" fill="rgb(0,214,160)"/><rect x="189" y="100" width="17.4" height="155" rx="6" fill="rgb(0,204,108)"/></g><path d="M136,140 L154,122 C157,121.2 167.5,117.9 172,117 C176.5,116.1 178.6,115.8 181,116.5 C183.4,117.2 185.2,118.8 186.5,121 C187.8,123.2 188.2,126.2 188.6,130 C189,133.8 188.9,141.7 189,144 L287.4,144 C287.5,141.7 287.4,133.8 287.8,130 C288.2,126.2 288.6,123.2 289.9,121 C291.2,118.8 293,117.2 295.4,116.5 C297.8,115.8 299.9,116.1 304.4,117 C308.9,117.9 319.4,121.2 322.4,122 L340.4,140 V30 H136 Z" fill="rgb(0,214,160)"/><path d="M142,134 L160,116 C162.7,115.4 171.8,113 176,112.5 C180.2,112 182.7,111.9 185,113 C187.3,114.1 188.9,116.2 190,119 C191.1,121.8 191.3,125.5 191.6,130 C191.9,134.5 191.9,143.3 192,146 L284.4,146 C284.5,143.3 284.5,134.5 284.8,130 C285.1,125.5 285.3,121.8 286.4,119 C287.5,116.2 289.1,114.1 291.4,113 C293.7,111.9 296.2,112 300.4,112.5 C304.6,113 313.7,115.4 316.4,116 L334.4,134 V30 H142 Z" fill="rgb(0,204,108)"/><path d="M154,122 L172,104 C174.7,103.7 183.7,101.7 188,102 C192.3,102.3 194.7,106.3 198,106 C201.3,105.7 204,101.5 208,100 C212,98.5 217,97.6 222,97 C227,96.4 232.8,96.5 238.2,96.5 C243.6,96.5 249.4,96.4 254.4,97 C259.4,97.6 264.4,98.5 268.4,100 C272.4,101.5 275.1,105.7 278.4,106 C281.7,106.3 284.1,102.3 288.4,102 C292.7,101.7 301.7,103.7 304.4,104 L322.4,122 V30 H154 Z" fill="rgb(18,230,12)"/><path d="M162,114 L180,96 C181.7,95.7 186.7,94.2 190,94 C193.3,93.8 196.3,95.3 200,95 C203.7,94.7 205.6,92.8 212,92 C218.4,91.2 229.5,90.5 238.2,90.5 C246.9,90.5 258,91.2 264.4,92 C270.8,92.8 272.7,94.7 276.4,95 C280.1,95.3 283.1,93.8 286.4,94 C289.7,94.2 294.7,95.7 296.4,96 L314.4,114 V30 H162 Z" fill="rgb(74,234,8)"/><path d="M194.8,50 L194.8,63 C195.4,65.2 196.7,72.4 198.5,76 C200.3,79.6 202.8,82.6 205.5,84.5 C208.2,86.4 209.6,87.1 215,87.4 C220.4,87.8 230.5,86.6 238.2,86.6 C245.9,86.6 255.9,87.8 261.4,87.4 C266.8,87.1 268.1,86.4 270.9,84.5 C273.6,82.6 276.1,79.6 277.9,76 C279.7,72.4 281,65.2 281.6,63 L281.6,50 Z" fill="rgb(164,240,8)"/><ellipse cx="187.4" cy="88" rx="6" ry="14" fill="rgb(164,240,8)" transform="rotate(32 187.4 88)"/><g transform="translate(476.4,0) scale(-1,1)"><ellipse cx="187.4" cy="88" rx="6" ry="14" fill="rgb(164,240,8)" transform="rotate(32 187.4 88)"/></g><ellipse cx="190.4" cy="81" rx="3" ry="12" fill="rgb(228,240,10)" transform="rotate(24 190.4 81)"/><g transform="translate(476.4,0) scale(-1,1)"><ellipse cx="190.4" cy="81" rx="3" ry="12" fill="rgb(228,240,10)" transform="rotate(24 190.4 81)"/></g><path d="M195.4,50 L195.4,63 C196.3,64.5 198.8,69.3 201,72 C203.2,74.7 205.7,77.6 208.5,79.4 C211.3,81.2 213.1,82.2 218,82.8 C222.9,83.4 231.5,83.2 238.2,83.2 C244.9,83.2 253.4,83.4 258.4,82.8 C263.3,82.2 265.1,81.2 267.9,79.4 C270.7,77.6 273.2,74.7 275.4,72 C277.6,69.3 280.1,64.5 281,63 L281,50 Z" fill="rgb(228,240,10)"/><path d="M196.2,50 L196.2,63 C197.3,64.2 200.3,68.2 202.6,70.5 C204.9,72.8 207.3,75.1 210,76.6 C212.7,78.1 214.3,78.9 219,79.4 C223.7,79.9 231.8,79.8 238.2,79.8 C244.6,79.8 252.7,79.9 257.4,79.4 C262.1,78.9 263.7,78.1 266.4,76.6 C269.1,75.1 271.5,72.8 273.8,70.5 C276.1,68.2 279.1,64.2 280.2,63 L280.2,50 Z" fill="rgb(250,172,8)"/><path d="M197,50 L197,63 C198.2,64 201.6,67.2 204,69 C206.4,70.8 208.8,72.8 211.5,74 C214.2,75.2 215.6,76 220,76.4 C224.4,76.8 232.1,76.6 238.2,76.6 C244.3,76.6 251.9,76.8 256.4,76.4 C260.8,76 262.2,75.2 264.9,74 C267.6,72.8 270,70.8 272.4,69 C274.8,67.2 278.2,64 279.4,63 L279.4,50 Z" fill="rgb(246,94,8)"/><path d="M198,50 L198,63 C199.3,63.7 203.1,65.6 205.6,67 C208.1,68.4 210.3,70.2 213,71.2 C215.7,72.2 217.8,72.8 222,73.2 C226.2,73.6 232.8,73.4 238.2,73.4 C243.6,73.4 250.2,73.6 254.4,73.2 C258.6,72.8 260.7,72.2 263.4,71.2 C266.1,70.2 268.3,68.4 270.8,67 C273.3,65.6 277.1,63.7 278.4,63 L278.4,50 Z" fill="rgb(228,4,10)"/><g transform="translate(0,354.8) scale(1,-1)"><path d="M136,140 L154,122 C157,121.2 167.5,117.9 172,117 C176.5,116.1 178.6,115.8 181,116.5 C183.4,117.2 185.2,118.8 186.5,121 C187.8,123.2 188.2,126.2 188.6,130 C189,133.8 188.9,141.7 189,144 L287.4,144 C287.5,141.7 287.4,133.8 287.8,130 C288.2,126.2 288.6,123.2 289.9,121 C291.2,118.8 293,117.2 295.4,116.5 C297.8,115.8 299.9,116.1 304.4,117 C308.9,117.9 319.4,121.2 322.4,122 L340.4,140 V30 H136 Z" fill="rgb(0,214,160)"/><path d="M142,134 L160,116 C162.7,115.4 171.8,113 176,112.5 C180.2,112 182.7,111.9 185,113 C187.3,114.1 188.9,116.2 190,119 C191.1,121.8 191.3,125.5 191.6,130 C191.9,134.5 191.9,143.3 192,146 L284.4,146 C284.5,143.3 284.5,134.5 284.8,130 C285.1,125.5 285.3,121.8 286.4,119 C287.5,116.2 289.1,114.1 291.4,113 C293.7,111.9 296.2,112 300.4,112.5 C304.6,113 313.7,115.4 316.4,116 L334.4,134 V30 H142 Z" fill="rgb(0,204,108)"/><path d="M154,122 L172,104 C174.7,103.7 183.7,101.7 188,102 C192.3,102.3 194.7,106.3 198,106 C201.3,105.7 204,101.5 208,100 C212,98.5 217,97.6 222,97 C227,96.4 232.8,96.5 238.2,96.5 C243.6,96.5 249.4,96.4 254.4,97 C259.4,97.6 264.4,98.5 268.4,100 C272.4,101.5 275.1,105.7 278.4,106 C281.7,106.3 284.1,102.3 288.4,102 C292.7,101.7 301.7,103.7 304.4,104 L322.4,122 V30 H154 Z" fill="rgb(18,230,12)"/><path d="M162,114 L180,96 C181.7,95.7 186.7,94.2 190,94 C193.3,93.8 196.3,95.3 200,95 C203.7,94.7 205.6,92.8 212,92 C218.4,91.2 229.5,90.5 238.2,90.5 C246.9,90.5 258,91.2 264.4,92 C270.8,92.8 272.7,94.7 276.4,95 C280.1,95.3 283.1,93.8 286.4,94 C289.7,94.2 294.7,95.7 296.4,96 L314.4,114 V30 H162 Z" fill="rgb(74,234,8)"/><path d="M194.8,50 L194.8,63 C195.4,65.2 196.7,72.4 198.5,76 C200.3,79.6 202.8,82.6 205.5,84.5 C208.2,86.4 209.6,87.1 215,87.4 C220.4,87.8 230.5,86.6 238.2,86.6 C245.9,86.6 255.9,87.8 261.4,87.4 C266.8,87.1 268.1,86.4 270.9,84.5 C273.6,82.6 276.1,79.6 277.9,76 C279.7,72.4 281,65.2 281.6,63 L281.6,50 Z" fill="rgb(164,240,8)"/><ellipse cx="187.4" cy="88" rx="6" ry="14" fill="rgb(164,240,8)" transform="rotate(32 187.4 88)"/><g transform="translate(476.4,0) scale(-1,1)"><ellipse cx="187.4" cy="88" rx="6" ry="14" fill="rgb(164,240,8)" transform="rotate(32 187.4 88)"/></g><ellipse cx="190.4" cy="81" rx="3" ry="12" fill="rgb(228,240,10)" transform="rotate(24 190.4 81)"/><g transform="translate(476.4,0) scale(-1,1)"><ellipse cx="190.4" cy="81" rx="3" ry="12" fill="rgb(228,240,10)" transform="rotate(24 190.4 81)"/></g><path d="M195.4,50 L195.4,63 C196.3,64.5 198.8,69.3 201,72 C203.2,74.7 205.7,77.6 208.5,79.4 C211.3,81.2 213.1,82.2 218,82.8 C222.9,83.4 231.5,83.2 238.2,83.2 C244.9,83.2 253.4,83.4 258.4,82.8 C263.3,82.2 265.1,81.2 267.9,79.4 C270.7,77.6 273.2,74.7 275.4,72 C277.6,69.3 280.1,64.5 281,63 L281,50 Z" fill="rgb(228,240,10)"/><path d="M196.2,50 L196.2,63 C197.3,64.2 200.3,68.2 202.6,70.5 C204.9,72.8 207.3,75.1 210,76.6 C212.7,78.1 214.3,78.9 219,79.4 C223.7,79.9 231.8,79.8 238.2,79.8 C244.6,79.8 252.7,79.9 257.4,79.4 C262.1,78.9 263.7,78.1 266.4,76.6 C269.1,75.1 271.5,72.8 273.8,70.5 C276.1,68.2 279.1,64.2 280.2,63 L280.2,50 Z" fill="rgb(250,172,8)"/><path d="M197,50 L197,63 C198.2,64 201.6,67.2 204,69 C206.4,70.8 208.8,72.8 211.5,74 C214.2,75.2 215.6,76 220,76.4 C224.4,76.8 232.1,76.6 238.2,76.6 C244.3,76.6 251.9,76.8 256.4,76.4 C260.8,76 262.2,75.2 264.9,74 C267.6,72.8 270,70.8 272.4,69 C274.8,67.2 278.2,64 279.4,63 L279.4,50 Z" fill="rgb(246,94,8)"/><path d="M198,50 L198,63 C199.3,63.7 203.1,65.6 205.6,67 C208.1,68.4 210.3,70.2 213,71.2 C215.7,72.2 217.8,72.8 222,73.2 C226.2,73.6 232.8,73.4 238.2,73.4 C243.6,73.4 250.2,73.6 254.4,73.2 C258.6,72.8 260.7,72.2 263.4,71.2 C266.1,70.2 268.3,68.4 270.8,67 C273.3,65.6 277.1,63.7 278.4,63 L278.4,50 Z" fill="rgb(228,4,10)"/></g><path d="M208.4,121 Q208.4,107 222.4,107 L226.2,107 Q234.2,107 238.2,115 Q242.2,107 250.2,107 L254,107 Q268,107 268,121 V233.8 Q268,247.8 254,247.8 L250.2,247.8 Q242.2,247.8 238.2,239.8 Q234.2,247.8 226.2,247.8 L222.4,247.8 Q208.4,247.8 208.4,233.8 Z" fill="rgb(0,224,218)"/><path d="M210.6,123.6 Q210.6,109.6 224.6,109.6 L226.2,109.6 Q234.2,109.6 238.2,119.6 Q242.2,109.6 250.2,109.6 L251.8,109.6 Q265.8,109.6 265.8,123.6 V231.2 Q265.8,245.2 251.8,245.2 L250.2,245.2 Q242.2,245.2 238.2,235.2 Q234.2,245.2 226.2,245.2 L224.6,245.2 Q210.6,245.2 210.6,231.2 Z" fill="rgb(10,156,250)"/><path d="M220.6,113.6 C222.9,113.6 226.1,115.2 227.6,117 C229.1,118.8 229.3,121.7 229.6,124.6 C229.8,127.5 229.6,129.8 229.1,134.6 C228.6,139.4 227.1,147.5 226.4,153.2 C225.7,159 225.3,165.1 225,169.2 C224.7,173.2 224.8,174.7 224.8,177.5 C224.8,180.3 224.7,181.8 225,185.8 C225.3,189.9 225.7,196 226.4,201.8 C227.1,207.5 228.6,215.6 229.1,220.4 C229.6,225.2 229.8,227.5 229.6,230.4 C229.3,233.3 229.1,236.2 227.6,238 C226.1,239.8 222.9,241.4 220.6,241.4 C218.3,241.4 215.1,239.8 213.6,238 C212.1,236.2 212.1,235.7 211.7,230.4 C211.3,225.1 211.5,215.1 211.3,206.3 C211.2,197.4 210.8,187.1 210.8,177.5 C210.8,167.9 211.2,157.6 211.3,148.7 C211.5,139.9 211.3,129.9 211.7,124.6 C212.1,119.3 212.1,118.8 213.6,117 C215.1,115.2 218.3,113.6 220.6,113.6Z" fill="rgb(6,116,244)"/><g transform="translate(476.4,0) scale(-1,1)"><path d="M220.6,113.6 C222.9,113.6 226.1,115.2 227.6,117 C229.1,118.8 229.3,121.7 229.6,124.6 C229.8,127.5 229.6,129.8 229.1,134.6 C228.6,139.4 227.1,147.5 226.4,153.2 C225.7,159 225.3,165.1 225,169.2 C224.7,173.2 224.8,174.7 224.8,177.5 C224.8,180.3 224.7,181.8 225,185.8 C225.3,189.9 225.7,196 226.4,201.8 C227.1,207.5 228.6,215.6 229.1,220.4 C229.6,225.2 229.8,227.5 229.6,230.4 C229.3,233.3 229.1,236.2 227.6,238 C226.1,239.8 222.9,241.4 220.6,241.4 C218.3,241.4 215.1,239.8 213.6,238 C212.1,236.2 212.1,235.7 211.7,230.4 C211.3,225.1 211.5,215.1 211.3,206.3 C211.2,197.4 210.8,187.1 210.8,177.5 C210.8,167.9 211.2,157.6 211.3,148.7 C211.5,139.9 211.3,129.9 211.7,124.6 C212.1,119.3 212.1,118.8 213.6,117 C215.1,115.2 218.3,113.6 220.6,113.6Z" fill="rgb(6,116,244)"/></g><ellipse cx="238.2" cy="177.5" rx="15.4" ry="63" fill="rgb(8,170,244)"/><ellipse cx="238.2" cy="177.5" rx="13.4" ry="60" fill="rgb(0,224,218)"/><ellipse cx="238.2" cy="177.5" rx="9.8" ry="50" fill="rgb(0,222,134)"/><ellipse cx="238.2" cy="178.5" rx="4.6" ry="31" fill="rgb(4,234,30)"/><path d="M220.7,115.4 C222.7,115.4 225.5,117 226.8,118.8 C228.2,120.6 228.6,123.5 228.8,126.4 C229.1,129.3 228.7,131.8 228.3,136.4 C227.9,141 226.8,148.4 226.2,153.9 C225.6,159.4 225.1,165.5 224.8,169.4 C224.5,173.4 224.6,174.8 224.6,177.5 C224.6,180.2 224.5,181.6 224.8,185.6 C225.1,189.5 225.6,195.6 226.2,201.1 C226.8,206.6 227.9,214 228.3,218.6 C228.7,223.2 229.1,225.7 228.8,228.6 C228.6,231.5 228.2,234.4 226.8,236.2 C225.5,238 222.7,239.6 220.7,239.6 C218.7,239.6 215.9,238 214.6,236.2 C213.3,234.4 213,233.7 212.7,228.6 C212.3,223.5 212.6,214 212.5,205.4 C212.4,196.9 212,186.8 212,177.5 C212,168.2 212.4,158.1 212.5,149.6 C212.6,141 212.3,131.5 212.7,126.4 C213,121.3 213.3,120.6 214.6,118.8 C215.9,117 218.7,115.4 220.7,115.4Z" fill="rgb(5,80,250)"/><g transform="translate(476.4,0) scale(-1,1)"><path d="M220.7,115.4 C222.7,115.4 225.5,117 226.8,118.8 C228.2,120.6 228.6,123.5 228.8,126.4 C229.1,129.3 228.7,131.8 228.3,136.4 C227.9,141 226.8,148.4 226.2,153.9 C225.6,159.4 225.1,165.5 224.8,169.4 C224.5,173.4 224.6,174.8 224.6,177.5 C224.6,180.2 224.5,181.6 224.8,185.6 C225.1,189.5 225.6,195.6 226.2,201.1 C226.8,206.6 227.9,214 228.3,218.6 C228.7,223.2 229.1,225.7 228.8,228.6 C228.6,231.5 228.2,234.4 226.8,236.2 C225.5,238 222.7,239.6 220.7,239.6 C218.7,239.6 215.9,238 214.6,236.2 C213.3,234.4 213,233.7 212.7,228.6 C212.3,223.5 212.6,214 212.5,205.4 C212.4,196.9 212,186.8 212,177.5 C212,168.2 212.4,158.1 212.5,149.6 C212.6,141 212.3,131.5 212.7,126.4 C213,121.3 213.3,120.6 214.6,118.8 C215.9,117 218.7,115.4 220.7,115.4Z" fill="rgb(5,80,250)"/></g><ellipse cx="220.6" cy="222" rx="3" ry="12" fill="rgb(8,50,238)"/><g transform="translate(476.4,0) scale(-1,1)"><ellipse cx="220.6" cy="222" rx="3" ry="12" fill="rgb(8,50,238)"/></g><ellipse cx="219.6" cy="137" rx="2.6" ry="10" fill="rgb(8,50,238)"/><g transform="translate(476.4,0) scale(-1,1)"><ellipse cx="219.6" cy="137" rx="2.6" ry="10" fill="rgb(8,50,238)"/></g><ellipse cx="165.4" cy="176.5" rx="10.2" ry="25.6" fill="rgb(0,150,234)"/><g transform="translate(476.4,0) scale(-1,1)"><ellipse cx="165.4" cy="176.5" rx="10.2" ry="25.6" fill="rgb(0,150,234)"/></g><ellipse cx="165.4" cy="176.5" rx="8.3" ry="23.6" fill="rgb(0,72,226)"/><g transform="translate(476.4,0) scale(-1,1)"><ellipse cx="165.4" cy="176.5" rx="8.3" ry="23.6" fill="rgb(0,72,226)"/></g></g><g filter="url(#soft2)"><rect x="186" y="44" width="104" height="16.6" rx="0" fill="rgb(0,166,218)"/><rect x="194" y="60.6" width="23.6" height="2" rx="0" fill="rgb(110,22,52)" fill-opacity="0.9"/><g transform="translate(476.4,0) scale(-1,1)"><rect x="194" y="60.6" width="23.6" height="2" rx="0" fill="rgb(110,22,52)" fill-opacity="0.9"/></g><rect x="217.6" y="60.6" width="38" height="1.2" rx="0" fill="rgb(40,204,150)" fill-opacity="1"/><rect x="217.6" y="61.7" width="38" height="1.6" rx="0" fill="rgb(246,240,150)" fill-opacity="1"/><g transform="translate(0,354.8) scale(1,-1)"><rect x="186" y="44" width="104" height="16.6" rx="0" fill="rgb(0,166,218)"/><rect x="194" y="60.6" width="23.6" height="2" rx="0" fill="rgb(110,22,52)" fill-opacity="0.9"/><g transform="translate(476.4,0) scale(-1,1)"><rect x="194" y="60.6" width="23.6" height="2" rx="0" fill="rgb(110,22,52)" fill-opacity="0.9"/></g><rect x="217.6" y="60.6" width="38" height="1.2" rx="0" fill="rgb(40,204,150)" fill-opacity="1"/><rect x="217.6" y="61.7" width="38" height="1.6" rx="0" fill="rgb(246,240,150)" fill-opacity="1"/></g></g><rect x="130" y="45" width="220" height="265" fill="url(#shade)"/></g><path d="M194.4,55 H282 V62 Q282,81.5 295.8,95.3 L335,134.8 V219.8 L295.8,259.4 Q282,273.2 282,292.7 V300 H194.4 V292.7 Q194.4,273.2 180.6,259.4 L141.4,219.8 V134.8 L180.6,95.3 Q194.4,81.5 194.4,62 Z" fill="none" stroke="rgb(30,70,70)" stroke-opacity=".75" stroke-width="0.9"/></g>
<text class="ls" transform="translate(299.4,290.2) scale(0.9,1)" font-size="29.4" letter-spacing="4.6" fill="#161616" stroke="#161616" stroke-width="0.35" filter="url(#soft)">(a)</text>
<text class="ls" transform="translate(675.4,290) scale(0.9,1)" font-size="29.4" letter-spacing="4.6" fill="#161616" stroke="#161616" stroke-width="0.35" filter="url(#soft)">(b)</text>
<text class="ls" transform="translate(1057.5,289.8) scale(0.9,1)" font-size="29.4" letter-spacing="4.6" fill="#161616" stroke="#161616" stroke-width="0.35" filter="url(#soft)">(c)</text>
<g transform="translate(0,0)"><g filter="url(#soft)"><rect x="13.3" y="68.5" width="21.2" height="14.1" fill="rgb(250,12,12)"/><rect x="13.3" y="82.5" width="21.2" height="14.1" fill="rgb(255,98,10)"/><rect x="13.3" y="96.6" width="21.2" height="14.1" fill="rgb(255,186,12)"/><rect x="13.3" y="110.6" width="21.2" height="14.1" fill="rgb(236,252,22)"/><rect x="13.3" y="124.7" width="21.2" height="14.1" fill="rgb(142,250,12)"/><rect x="13.3" y="138.7" width="21.2" height="14.1" fill="rgb(52,240,12)"/><rect x="13.3" y="152.7" width="21.2" height="14.1" fill="rgb(12,236,52)"/><rect x="13.3" y="166.8" width="21.2" height="14.1" fill="rgb(14,236,142)"/><rect x="13.3" y="180.8" width="21.2" height="14.1" fill="rgb(14,234,230)"/><rect x="13.3" y="194.9" width="21.2" height="14.1" fill="rgb(22,170,250)"/><rect x="13.3" y="208.9" width="21.2" height="14.1" fill="rgb(22,92,246)"/><rect x="13.3" y="222.9" width="21.2" height="14.1" fill="rgb(24,24,238)"/><path d="M13.3,68.5 H40.8" stroke="rgb(18,22,18)" stroke-width="1.0" stroke-opacity=".9" fill="none"/><path d="M13.3,82.5 H40.8" stroke="rgb(18,22,18)" stroke-width="1.0" stroke-opacity=".9" fill="none"/><path d="M13.3,96.6 H40.8" stroke="rgb(18,22,18)" stroke-width="1.0" stroke-opacity=".9" fill="none"/><path d="M13.3,110.6 H40.8" stroke="rgb(18,22,18)" stroke-width="1.0" stroke-opacity=".9" fill="none"/><path d="M13.3,124.7 H40.8" stroke="rgb(18,22,18)" stroke-width="1.0" stroke-opacity=".9" fill="none"/><path d="M13.3,138.7 H40.8" stroke="rgb(18,22,18)" stroke-width="1.0" stroke-opacity=".9" fill="none"/><path d="M13.3,152.7 H40.8" stroke="rgb(18,22,18)" stroke-width="1.0" stroke-opacity=".9" fill="none"/><path d="M13.3,166.8 H40.8" stroke="rgb(18,22,18)" stroke-width="1.0" stroke-opacity=".9" fill="none"/><path d="M13.3,180.8 H40.8" stroke="rgb(18,22,18)" stroke-width="1.0" stroke-opacity=".9" fill="none"/><path d="M13.3,194.9 H40.8" stroke="rgb(18,22,18)" stroke-width="1.0" stroke-opacity=".9" fill="none"/><path d="M13.3,208.9 H40.8" stroke="rgb(18,22,18)" stroke-width="1.0" stroke-opacity=".9" fill="none"/><path d="M13.3,222.9 H40.8" stroke="rgb(18,22,18)" stroke-width="1.0" stroke-opacity=".9" fill="none"/><path d="M13.3,237 H40.8" stroke="rgb(18,22,18)" stroke-width="1.0" stroke-opacity=".9" fill="none"/><rect x="13.3" y="68.5" width="21.2" height="168.5" fill="none" stroke="rgb(16,50,30)" stroke-width="0.8" stroke-opacity=".75"/></g><g filter="url(#soft)"><text class="ls" transform="translate(13.2,19.6) scale(1.13,1)" font-size="12.9" font-weight="normal" fill="#141414" stroke="#141414" stroke-width="0.38" textLength="39.5" lengthAdjust="spacing">S, S11</text><text class="ls" transform="translate(13.2,37.4) scale(1.13,1)" font-size="12.9" font-weight="normal" fill="#141414" stroke="#141414" stroke-width="0.38" textLength="37.5" lengthAdjust="spacing">SNEG,</text><text class="ls" transform="translate(62,37.4) scale(1.13,1)" font-size="12.9" font-weight="normal" fill="#141414" stroke="#141414" stroke-width="0.38" textLength="51.7" lengthAdjust="spacing">(fraction</text><text class="ls" transform="translate(126.2,37.4) scale(1.13,1)" font-size="12.9" font-weight="normal" fill="#141414" stroke="#141414" stroke-width="0.38" textLength="8.3" lengthAdjust="spacing">=</text><text class="ls" transform="translate(142.4,37.4) scale(1.13,1)" font-size="12.9" font-weight="normal" fill="#141414" stroke="#141414" stroke-width="0.38" textLength="30.3" lengthAdjust="spacing">-1.0)</text><text class="ls" transform="translate(13.4,54.4) scale(1.13,1)" font-size="12.9" font-weight="normal" fill="#141414" stroke="#141414" stroke-width="0.38" textLength="3.4" lengthAdjust="spacing">(</text><text class="lsc" x="19" y="54.6" font-size="13" fill="#4a4a4a" textLength="26.2" lengthAdjust="spacingAndGlyphs">平均</text><text class="ls" transform="translate(47.6,54.4) scale(1.13,1)" font-size="12.9" font-weight="normal" fill="#141414" stroke="#141414" stroke-width="0.38" textLength="2.8" lengthAdjust="spacing">:</text><text class="ls" transform="translate(57.8,54.4) scale(1.13,1)" font-size="12.9" font-weight="bold" fill="#141414" stroke="#141414" stroke-width="0.1" textLength="27.8" lengthAdjust="spacing">75%</text><text class="ls" transform="translate(91.4,54.4) scale(1.13,1)" font-size="12.9" font-weight="normal" fill="#141414" stroke="#141414" stroke-width="0.38" textLength="3.4" lengthAdjust="spacing">)</text><text class="ls" transform="translate(49.2,73.2) scale(1.12,1)" font-size="13.6" font-weight="normal" fill="#141414" stroke="#141414" stroke-width="0.42" textLength="70" lengthAdjust="spacing">+3.79e+02</text><text class="ls" transform="translate(49.2,87.2) scale(1.12,1)" font-size="13.6" font-weight="normal" fill="#141414" stroke="#141414" stroke-width="0.42" textLength="70" lengthAdjust="spacing">+3.40e+02</text><text class="ls" transform="translate(49.2,101.3) scale(1.12,1)" font-size="13.6" font-weight="normal" fill="#141414" stroke="#141414" stroke-width="0.42" textLength="70" lengthAdjust="spacing">+3.02e+02</text><text class="ls" transform="translate(49.2,115.3) scale(1.12,1)" font-size="13.6" font-weight="normal" fill="#141414" stroke="#141414" stroke-width="0.42" textLength="70" lengthAdjust="spacing">+2.63e+02</text><text class="ls" transform="translate(49.2,129.4) scale(1.12,1)" font-size="13.6" font-weight="normal" fill="#141414" stroke="#141414" stroke-width="0.42" textLength="70" lengthAdjust="spacing">+2.24e+02</text><text class="ls" transform="translate(49.2,143.4) scale(1.12,1)" font-size="13.6" font-weight="normal" fill="#141414" stroke="#141414" stroke-width="0.42" textLength="70" lengthAdjust="spacing">+1.85e+02</text><text class="ls" transform="translate(49.2,157.4) scale(1.12,1)" font-size="13.6" font-weight="normal" fill="#141414" stroke="#141414" stroke-width="0.42" textLength="70" lengthAdjust="spacing">+1.46e+02</text><text class="ls" transform="translate(49.2,171.5) scale(1.12,1)" font-size="13.6" font-weight="normal" fill="#141414" stroke="#141414" stroke-width="0.42" textLength="70" lengthAdjust="spacing">+1.07e+02</text><text class="ls" transform="translate(49.2,185.5) scale(1.12,1)" font-size="13.6" font-weight="normal" fill="#141414" stroke="#141414" stroke-width="0.42" textLength="70" lengthAdjust="spacing">+6.86e+01</text><text class="ls" transform="translate(49.2,199.6) scale(1.12,1)" font-size="13.6" font-weight="normal" fill="#141414" stroke="#141414" stroke-width="0.42" textLength="70" lengthAdjust="spacing">+2.98e+01</text><text class="ls" transform="translate(48.6,213.6) scale(1.12,1)" font-size="13.6" font-weight="normal" fill="#141414" stroke="#141414" stroke-width="0.42" textLength="65.7" lengthAdjust="spacing">-9.00e+00</text><text class="ls" transform="translate(48.6,227.6) scale(1.12,1)" font-size="13.6" font-weight="normal" fill="#141414" stroke="#141414" stroke-width="0.42" textLength="65.7" lengthAdjust="spacing">-4.78e+01</text><text class="ls" transform="translate(48.6,241.7) scale(1.12,1)" font-size="13.6" font-weight="normal" fill="#141414" stroke="#141414" stroke-width="0.42" textLength="65.7" lengthAdjust="spacing">-8.66e+01</text></g><g transform="translate(0,0)" filter="url(#soft)"><text class="ls" x="94.3" y="264.6" font-size="10.6" font-weight="bold" text-anchor="middle" fill="#111" stroke="#111" stroke-width="0.3">Y</text><text class="ls" x="122.8" y="292.8" font-size="10.6" font-weight="bold" text-anchor="middle" fill="#111" stroke="#111" stroke-width="0.3">X</text><path d="M94.6,287 V277.5" stroke="rgb(60,170,40)" stroke-width="1.8" fill="none"/><path d="M91,278.4 L94.7,271.6 L98.4,278.4 Z" fill="rgb(60,170,40)"/><path d="M96,289.7 H107.5" stroke="rgb(150,30,40)" stroke-width="1.6" fill="none"/><path d="M106.8,287.1 L113.8,289.7 L106.8,292.3 Z" fill="rgb(150,30,40)"/><rect x="91.6" y="286.2" width="5.8" height="6.4" fill="rgb(22,24,90)"/><path d="M92.2,285.4 H97 L92.6,288" stroke="#111" stroke-width="1" fill="none"/></g></g>
<g transform="translate(375.5,-0.6)"><g filter="url(#soft)"><rect x="13.3" y="68.5" width="21.2" height="14.1" fill="rgb(250,12,12)"/><rect x="13.3" y="82.5" width="21.2" height="14.1" fill="rgb(255,98,10)"/><rect x="13.3" y="96.6" width="21.2" height="14.1" fill="rgb(255,186,12)"/><rect x="13.3" y="110.6" width="21.2" height="14.1" fill="rgb(236,252,22)"/><rect x="13.3" y="124.7" width="21.2" height="14.1" fill="rgb(142,250,12)"/><rect x="13.3" y="138.7" width="21.2" height="14.1" fill="rgb(52,240,12)"/><rect x="13.3" y="152.7" width="21.2" height="14.1" fill="rgb(12,236,52)"/><rect x="13.3" y="166.8" width="21.2" height="14.1" fill="rgb(14,236,142)"/><rect x="13.3" y="180.8" width="21.2" height="14.1" fill="rgb(14,234,230)"/><rect x="13.3" y="194.9" width="21.2" height="14.1" fill="rgb(22,170,250)"/><rect x="13.3" y="208.9" width="21.2" height="14.1" fill="rgb(22,92,246)"/><rect x="13.3" y="222.9" width="21.2" height="14.1" fill="rgb(24,24,238)"/><path d="M13.3,68.5 H40.8" stroke="rgb(18,22,18)" stroke-width="1.0" stroke-opacity=".9" fill="none"/><path d="M13.3,82.5 H40.8" stroke="rgb(18,22,18)" stroke-width="1.0" stroke-opacity=".9" fill="none"/><path d="M13.3,96.6 H40.8" stroke="rgb(18,22,18)" stroke-width="1.0" stroke-opacity=".9" fill="none"/><path d="M13.3,110.6 H40.8" stroke="rgb(18,22,18)" stroke-width="1.0" stroke-opacity=".9" fill="none"/><path d="M13.3,124.7 H40.8" stroke="rgb(18,22,18)" stroke-width="1.0" stroke-opacity=".9" fill="none"/><path d="M13.3,138.7 H40.8" stroke="rgb(18,22,18)" stroke-width="1.0" stroke-opacity=".9" fill="none"/><path d="M13.3,152.7 H40.8" stroke="rgb(18,22,18)" stroke-width="1.0" stroke-opacity=".9" fill="none"/><path d="M13.3,166.8 H40.8" stroke="rgb(18,22,18)" stroke-width="1.0" stroke-opacity=".9" fill="none"/><path d="M13.3,180.8 H40.8" stroke="rgb(18,22,18)" stroke-width="1.0" stroke-opacity=".9" fill="none"/><path d="M13.3,194.9 H40.8" stroke="rgb(18,22,18)" stroke-width="1.0" stroke-opacity=".9" fill="none"/><path d="M13.3,208.9 H40.8" stroke="rgb(18,22,18)" stroke-width="1.0" stroke-opacity=".9" fill="none"/><path d="M13.3,222.9 H40.8" stroke="rgb(18,22,18)" stroke-width="1.0" stroke-opacity=".9" fill="none"/><path d="M13.3,237 H40.8" stroke="rgb(18,22,18)" stroke-width="1.0" stroke-opacity=".9" fill="none"/><rect x="13.3" y="68.5" width="21.2" height="168.5" fill="none" stroke="rgb(16,50,30)" stroke-width="0.8" stroke-opacity=".75"/></g><g filter="url(#soft)"><text class="ls" transform="translate(13.2,19.6) scale(1.13,1)" font-size="12.9" font-weight="normal" fill="#141414" stroke="#141414" stroke-width="0.38" textLength="39.5" lengthAdjust="spacing">S, S11</text><text class="ls" transform="translate(13.2,37.4) scale(1.13,1)" font-size="12.9" font-weight="normal" fill="#141414" stroke="#141414" stroke-width="0.38" textLength="37.5" lengthAdjust="spacing">SNEG,</text><text class="ls" transform="translate(62,37.4) scale(1.13,1)" font-size="12.9" font-weight="normal" fill="#141414" stroke="#141414" stroke-width="0.38" textLength="51.7" lengthAdjust="spacing">(fraction</text><text class="ls" transform="translate(126.2,37.4) scale(1.13,1)" font-size="12.9" font-weight="normal" fill="#141414" stroke="#141414" stroke-width="0.38" textLength="8.3" lengthAdjust="spacing">=</text><text class="ls" transform="translate(142.4,37.4) scale(1.13,1)" font-size="12.9" font-weight="normal" fill="#141414" stroke="#141414" stroke-width="0.38" textLength="30.3" lengthAdjust="spacing">-1.0)</text><text class="ls" transform="translate(13.4,54.4) scale(1.13,1)" font-size="12.9" font-weight="normal" fill="#141414" stroke="#141414" stroke-width="0.38" textLength="3.4" lengthAdjust="spacing">(</text><text class="lsc" x="19" y="54.6" font-size="13" fill="#4a4a4a" textLength="26.2" lengthAdjust="spacingAndGlyphs">平均</text><text class="ls" transform="translate(47.6,54.4) scale(1.13,1)" font-size="12.9" font-weight="normal" fill="#141414" stroke="#141414" stroke-width="0.38" textLength="2.8" lengthAdjust="spacing">:</text><text class="ls" transform="translate(57.8,54.4) scale(1.13,1)" font-size="12.9" font-weight="bold" fill="#141414" stroke="#141414" stroke-width="0.1" textLength="27.8" lengthAdjust="spacing">75%</text><text class="ls" transform="translate(91.4,54.4) scale(1.13,1)" font-size="12.9" font-weight="normal" fill="#141414" stroke="#141414" stroke-width="0.38" textLength="3.4" lengthAdjust="spacing">)</text><text class="ls" transform="translate(49.2,73.2) scale(1.12,1)" font-size="13.6" font-weight="normal" fill="#141414" stroke="#141414" stroke-width="0.42" textLength="70" lengthAdjust="spacing">+2.91e+02</text><text class="ls" transform="translate(49.2,87.2) scale(1.12,1)" font-size="13.6" font-weight="normal" fill="#141414" stroke="#141414" stroke-width="0.42" textLength="70" lengthAdjust="spacing">+2.61e+02</text><text class="ls" transform="translate(49.2,101.3) scale(1.12,1)" font-size="13.6" font-weight="normal" fill="#141414" stroke="#141414" stroke-width="0.42" textLength="70" lengthAdjust="spacing">+2.31e+02</text><text class="ls" transform="translate(49.2,115.3) scale(1.12,1)" font-size="13.6" font-weight="normal" fill="#141414" stroke="#141414" stroke-width="0.42" textLength="70" lengthAdjust="spacing">+2.01e+02</text><text class="ls" transform="translate(49.2,129.4) scale(1.12,1)" font-size="13.6" font-weight="normal" fill="#141414" stroke="#141414" stroke-width="0.42" textLength="70" lengthAdjust="spacing">+1.72e+02</text><text class="ls" transform="translate(49.2,143.4) scale(1.12,1)" font-size="13.6" font-weight="normal" fill="#141414" stroke="#141414" stroke-width="0.42" textLength="70" lengthAdjust="spacing">+1.42e+02</text><text class="ls" transform="translate(49.2,157.4) scale(1.12,1)" font-size="13.6" font-weight="normal" fill="#141414" stroke="#141414" stroke-width="0.42" textLength="70" lengthAdjust="spacing">+1.12e+02</text><text class="ls" transform="translate(49.2,171.5) scale(1.12,1)" font-size="13.6" font-weight="normal" fill="#141414" stroke="#141414" stroke-width="0.42" textLength="70" lengthAdjust="spacing">+8.23e+01</text><text class="ls" transform="translate(49.2,185.5) scale(1.12,1)" font-size="13.6" font-weight="normal" fill="#141414" stroke="#141414" stroke-width="0.42" textLength="70" lengthAdjust="spacing">+5.25e+01</text><text class="ls" transform="translate(49.2,199.6) scale(1.12,1)" font-size="13.6" font-weight="normal" fill="#141414" stroke="#141414" stroke-width="0.42" textLength="70" lengthAdjust="spacing">+2.28e+01</text><text class="ls" transform="translate(48.6,213.6) scale(1.12,1)" font-size="13.6" font-weight="normal" fill="#141414" stroke="#141414" stroke-width="0.42" textLength="65.7" lengthAdjust="spacing">-7.02e+00</text><text class="ls" transform="translate(48.6,227.6) scale(1.12,1)" font-size="13.6" font-weight="normal" fill="#141414" stroke="#141414" stroke-width="0.42" textLength="65.7" lengthAdjust="spacing">-3.68e+01</text><text class="ls" transform="translate(48.6,241.7) scale(1.12,1)" font-size="13.6" font-weight="normal" fill="#141414" stroke="#141414" stroke-width="0.42" textLength="65.7" lengthAdjust="spacing">-6.66e+01</text></g><g transform="translate(0.6,0)" filter="url(#soft)"><text class="ls" x="94.3" y="264.6" font-size="10.6" font-weight="bold" text-anchor="middle" fill="#111" stroke="#111" stroke-width="0.3">Y</text><text class="ls" x="122.8" y="292.8" font-size="10.6" font-weight="bold" text-anchor="middle" fill="#111" stroke="#111" stroke-width="0.3">X</text><path d="M94.6,287 V277.5" stroke="rgb(60,170,40)" stroke-width="1.8" fill="none"/><path d="M91,278.4 L94.7,271.6 L98.4,278.4 Z" fill="rgb(60,170,40)"/><path d="M96,289.7 H107.5" stroke="rgb(150,30,40)" stroke-width="1.6" fill="none"/><path d="M106.8,287.1 L113.8,289.7 L106.8,292.3 Z" fill="rgb(150,30,40)"/><rect x="91.6" y="286.2" width="5.8" height="6.4" fill="rgb(22,24,90)"/><path d="M92.2,285.4 H97 L92.6,288" stroke="#111" stroke-width="1" fill="none"/></g></g>
<g transform="translate(758.8,-0.6)"><g filter="url(#soft)"><rect x="13.3" y="68.5" width="21.2" height="14.1" fill="rgb(250,12,12)"/><rect x="13.3" y="82.5" width="21.2" height="14.1" fill="rgb(255,98,10)"/><rect x="13.3" y="96.6" width="21.2" height="14.1" fill="rgb(255,186,12)"/><rect x="13.3" y="110.6" width="21.2" height="14.1" fill="rgb(236,252,22)"/><rect x="13.3" y="124.7" width="21.2" height="14.1" fill="rgb(142,250,12)"/><rect x="13.3" y="138.7" width="21.2" height="14.1" fill="rgb(52,240,12)"/><rect x="13.3" y="152.7" width="21.2" height="14.1" fill="rgb(12,236,52)"/><rect x="13.3" y="166.8" width="21.2" height="14.1" fill="rgb(14,236,142)"/><rect x="13.3" y="180.8" width="21.2" height="14.1" fill="rgb(14,234,230)"/><rect x="13.3" y="194.9" width="21.2" height="14.1" fill="rgb(22,170,250)"/><rect x="13.3" y="208.9" width="21.2" height="14.1" fill="rgb(22,92,246)"/><rect x="13.3" y="222.9" width="21.2" height="14.1" fill="rgb(24,24,238)"/><path d="M13.3,68.5 H40.8" stroke="rgb(18,22,18)" stroke-width="1.0" stroke-opacity=".9" fill="none"/><path d="M13.3,82.5 H40.8" stroke="rgb(18,22,18)" stroke-width="1.0" stroke-opacity=".9" fill="none"/><path d="M13.3,96.6 H40.8" stroke="rgb(18,22,18)" stroke-width="1.0" stroke-opacity=".9" fill="none"/><path d="M13.3,110.6 H40.8" stroke="rgb(18,22,18)" stroke-width="1.0" stroke-opacity=".9" fill="none"/><path d="M13.3,124.7 H40.8" stroke="rgb(18,22,18)" stroke-width="1.0" stroke-opacity=".9" fill="none"/><path d="M13.3,138.7 H40.8" stroke="rgb(18,22,18)" stroke-width="1.0" stroke-opacity=".9" fill="none"/><path d="M13.3,152.7 H40.8" stroke="rgb(18,22,18)" stroke-width="1.0" stroke-opacity=".9" fill="none"/><path d="M13.3,166.8 H40.8" stroke="rgb(18,22,18)" stroke-width="1.0" stroke-opacity=".9" fill="none"/><path d="M13.3,180.8 H40.8" stroke="rgb(18,22,18)" stroke-width="1.0" stroke-opacity=".9" fill="none"/><path d="M13.3,194.9 H40.8" stroke="rgb(18,22,18)" stroke-width="1.0" stroke-opacity=".9" fill="none"/><path d="M13.3,208.9 H40.8" stroke="rgb(18,22,18)" stroke-width="1.0" stroke-opacity=".9" fill="none"/><path d="M13.3,222.9 H40.8" stroke="rgb(18,22,18)" stroke-width="1.0" stroke-opacity=".9" fill="none"/><path d="M13.3,237 H40.8" stroke="rgb(18,22,18)" stroke-width="1.0" stroke-opacity=".9" fill="none"/><rect x="13.3" y="68.5" width="21.2" height="168.5" fill="none" stroke="rgb(16,50,30)" stroke-width="0.8" stroke-opacity=".75"/></g><g filter="url(#soft)"><text class="ls" transform="translate(13.2,19.6) scale(1.13,1)" font-size="12.9" font-weight="normal" fill="#141414" stroke="#141414" stroke-width="0.38" textLength="39.5" lengthAdjust="spacing">S, S11</text><text class="ls" transform="translate(13.2,37.4) scale(1.13,1)" font-size="12.9" font-weight="normal" fill="#141414" stroke="#141414" stroke-width="0.38" textLength="37.5" lengthAdjust="spacing">SNEG,</text><text class="ls" transform="translate(62,37.4) scale(1.13,1)" font-size="12.9" font-weight="normal" fill="#141414" stroke="#141414" stroke-width="0.38" textLength="51.7" lengthAdjust="spacing">(fraction</text><text class="ls" transform="translate(126.2,37.4) scale(1.13,1)" font-size="12.9" font-weight="normal" fill="#141414" stroke="#141414" stroke-width="0.38" textLength="8.3" lengthAdjust="spacing">=</text><text class="ls" transform="translate(142.4,37.4) scale(1.13,1)" font-size="12.9" font-weight="normal" fill="#141414" stroke="#141414" stroke-width="0.38" textLength="30.3" lengthAdjust="spacing">-1.0)</text><text class="ls" transform="translate(13.4,54.4) scale(1.13,1)" font-size="12.9" font-weight="normal" fill="#141414" stroke="#141414" stroke-width="0.38" textLength="3.4" lengthAdjust="spacing">(</text><text class="lsc" x="19" y="54.6" font-size="13" fill="#4a4a4a" textLength="26.2" lengthAdjust="spacingAndGlyphs">平均</text><text class="ls" transform="translate(47.6,54.4) scale(1.13,1)" font-size="12.9" font-weight="normal" fill="#141414" stroke="#141414" stroke-width="0.38" textLength="2.8" lengthAdjust="spacing">:</text><text class="ls" transform="translate(57.8,54.4) scale(1.13,1)" font-size="12.9" font-weight="bold" fill="#141414" stroke="#141414" stroke-width="0.1" textLength="27.8" lengthAdjust="spacing">75%</text><text class="ls" transform="translate(91.4,54.4) scale(1.13,1)" font-size="12.9" font-weight="normal" fill="#141414" stroke="#141414" stroke-width="0.38" textLength="3.4" lengthAdjust="spacing">)</text><text class="ls" transform="translate(49.2,73.2) scale(1.12,1)" font-size="13.6" font-weight="normal" fill="#141414" stroke="#141414" stroke-width="0.42" textLength="70" lengthAdjust="spacing">+1.61e+02</text><text class="ls" transform="translate(49.2,87.2) scale(1.12,1)" font-size="13.6" font-weight="normal" fill="#141414" stroke="#141414" stroke-width="0.42" textLength="70" lengthAdjust="spacing">+1.45e+02</text><text class="ls" transform="translate(49.2,101.3) scale(1.12,1)" font-size="13.6" font-weight="normal" fill="#141414" stroke="#141414" stroke-width="0.42" textLength="70" lengthAdjust="spacing">+1.28e+02</text><text class="ls" transform="translate(49.2,115.3) scale(1.12,1)" font-size="13.6" font-weight="normal" fill="#141414" stroke="#141414" stroke-width="0.42" textLength="70" lengthAdjust="spacing">+1.12e+02</text><text class="ls" transform="translate(49.2,129.4) scale(1.12,1)" font-size="13.6" font-weight="normal" fill="#141414" stroke="#141414" stroke-width="0.42" textLength="70" lengthAdjust="spacing">+9.51e+01</text><text class="ls" transform="translate(49.2,143.4) scale(1.12,1)" font-size="13.6" font-weight="normal" fill="#141414" stroke="#141414" stroke-width="0.42" textLength="70" lengthAdjust="spacing">+7.85e+01</text><text class="ls" transform="translate(49.2,157.4) scale(1.12,1)" font-size="13.6" font-weight="normal" fill="#141414" stroke="#141414" stroke-width="0.42" textLength="70" lengthAdjust="spacing">+6.19e+01</text><text class="ls" transform="translate(49.2,171.5) scale(1.12,1)" font-size="13.6" font-weight="normal" fill="#141414" stroke="#141414" stroke-width="0.42" textLength="70" lengthAdjust="spacing">+4.53e+01</text><text class="ls" transform="translate(49.2,185.5) scale(1.12,1)" font-size="13.6" font-weight="normal" fill="#141414" stroke="#141414" stroke-width="0.42" textLength="70" lengthAdjust="spacing">+2.88e+01</text><text class="ls" transform="translate(49.2,199.6) scale(1.12,1)" font-size="13.6" font-weight="normal" fill="#141414" stroke="#141414" stroke-width="0.42" textLength="70" lengthAdjust="spacing">+1.22e+01</text><text class="ls" transform="translate(48.6,213.6) scale(1.12,1)" font-size="13.6" font-weight="normal" fill="#141414" stroke="#141414" stroke-width="0.42" textLength="65.7" lengthAdjust="spacing">-4.38e+00</text><text class="ls" transform="translate(48.6,227.6) scale(1.12,1)" font-size="13.6" font-weight="normal" fill="#141414" stroke="#141414" stroke-width="0.42" textLength="65.7" lengthAdjust="spacing">-2.10e+01</text><text class="ls" transform="translate(48.6,241.7) scale(1.12,1)" font-size="13.6" font-weight="normal" fill="#141414" stroke="#141414" stroke-width="0.42" textLength="65.7" lengthAdjust="spacing">-3.75e+01</text></g><g transform="translate(-1,0)" filter="url(#soft)"><text class="ls" x="94.3" y="264.6" font-size="10.6" font-weight="bold" text-anchor="middle" fill="#111" stroke="#111" stroke-width="0.3">Y</text><text class="ls" x="122.8" y="292.8" font-size="10.6" font-weight="bold" text-anchor="middle" fill="#111" stroke="#111" stroke-width="0.3">X</text><path d="M94.6,287 V277.5" stroke="rgb(60,170,40)" stroke-width="1.8" fill="none"/><path d="M91,278.4 L94.7,271.6 L98.4,278.4 Z" fill="rgb(60,170,40)"/><path d="M96,289.7 H107.5" stroke="rgb(150,30,40)" stroke-width="1.6" fill="none"/><path d="M106.8,287.1 L113.8,289.7 L106.8,292.3 Z" fill="rgb(150,30,40)"/><rect x="91.6" y="286.2" width="5.8" height="6.4" fill="rgb(22,24,90)"/><path d="M92.2,285.4 H97 L92.6,288" stroke="#111" stroke-width="1" fill="none"/></g></g>
<g filter="url(#soft1)"><rect x="362.7" y="329.5" width="404.6" height="325.6" fill="rgb(228,250,251)"/><path d="M368.7,574.3 H767.3" stroke="rgb(100,132,134)" stroke-width="0.95" stroke-dasharray="5.4 3.6" fill="none"/><path d="M565,330.5 V655.1" stroke="rgb(100,132,134)" stroke-width="0.95" stroke-dasharray="5.4 3.6" fill="none"/><path d="M404.2,383.6 C408.48,392.35 421.80,419.24 430.12,435.93 C438.44,452.62 447.94,471.48 454.06,483.75 C460.19,496.03 462.66,500.81 466.87,509.60 C471.09,518.38 475.14,528.15 479.35,536.46 C483.57,544.77 488.34,553.25 492.16,559.46 C495.99,565.66 497.11,566.51 502.28,573.70 C507.45,580.89 516.22,594.69 523.19,602.60 C530.16,610.50 538.81,617.11 544.09,621.12 C549.38,625.12 551.51,625.42 554.88,626.61 C558.26,627.80 560.95,628.24 564.33,628.24 C567.70,628.24 571.74,627.49 575.12,626.61 C578.49,625.73 579.56,626.95 584.56,622.95 C589.56,618.94 598.16,610.80 605.13,602.60 C612.10,594.39 620.58,581.74 626.37,573.70 C632.16,565.66 635.59,560.98 639.86,554.37 C644.13,547.75 647.95,541.31 652.00,534.02 C656.04,526.73 660.09,518.75 664.14,510.62 C668.18,502.48 670.32,497.90 676.28,485.18 C682.23,472.46 692.18,450.89 699.88,434.30 C707.58,417.72 718.71,393.77 722.47,385.67" fill="none" stroke="rgb(24,24,24)" stroke-width="2.5" stroke-dasharray="8 4.5 2.6 4.5 2.6 4.5"/><path d="M404.2,359 C408.48,368.95 421.80,399.47 430.12,418.63 C438.44,437.80 447.94,460.01 454.06,473.99 C460.19,487.96 462.66,493.05 466.87,502.48 C471.09,511.90 475.14,521.98 479.35,530.56 C483.57,539.14 487.84,546.77 492.16,553.96 C496.49,561.15 499.92,566.68 505.32,573.70 C510.71,580.72 517.96,589.47 524.54,596.09 C531.11,602.70 539.71,609.48 544.77,613.38 C549.83,617.28 551.51,618.37 554.88,619.49 C558.26,620.61 561.63,620.10 565.00,620.10 C568.37,620.10 571.74,620.51 575.12,619.49 C578.49,618.47 580.51,617.83 585.23,613.99 C589.95,610.16 597.31,603.21 603.44,596.49 C609.57,589.78 616.20,581.74 621.99,573.70 C627.78,565.66 633.45,556.13 638.17,548.26 C642.89,540.39 646.49,534.29 650.31,526.49 C654.13,518.69 657.28,510.21 661.10,501.46 C664.92,492.71 666.78,488.81 673.24,473.99 C679.70,459.16 691.56,431.76 699.88,412.53 C708.20,393.30 719.27,367.59 723.15,358.60" fill="none" stroke="rgb(28,28,170)" stroke-width="2.7" stroke-dasharray="9.5 4 2.8 4"/><path d="M404.2,366.5 C408.48,376.37 421.80,406.63 430.12,425.55 C438.44,444.48 447.94,466.52 454.06,480.09 C460.19,493.66 462.66,497.96 466.87,506.95 C471.09,515.94 475.14,525.67 479.35,534.02 C483.57,542.36 488.12,550.26 492.16,557.01 C496.21,563.76 500.59,570.00 503.63,574.51 C506.66,579.02 507.00,579.81 510.37,584.08 C513.75,588.35 518.24,594.49 523.86,600.16 C529.48,605.82 538.92,614.16 544.09,618.06 C549.26,621.96 551.51,622.37 554.88,623.56 C558.26,624.74 560.95,625.19 564.33,625.19 C567.70,625.19 571.86,624.41 575.12,623.56 C578.38,622.71 579.05,624.00 583.88,620.10 C588.72,616.20 598.89,606.16 604.12,600.16 C609.34,594.15 611.81,588.35 615.24,584.08 C618.67,579.81 620.86,579.70 624.68,574.51 C628.51,569.32 633.90,560.13 638.17,552.94 C642.44,545.75 646.49,539.04 650.31,531.37 C654.13,523.71 657.28,515.50 661.10,506.95 C664.92,498.41 666.78,494.50 673.24,480.09 C679.70,465.68 691.42,439.39 699.88,420.46 C708.34,401.54 719.97,375.52 723.99,366.54" fill="none" stroke="rgb(224,42,48)" stroke-width="2.4" stroke-linejoin="round"/><rect x="362.7" y="329.5" width="404.6" height="325.6" fill="none" stroke="rgb(52,62,66)" stroke-width="1.35"/><path d="M362.7,655.1 v-5.6 M396.4,655.1 v-2.9 M430.1,655.1 v-5.6 M463.8,655.1 v-2.9 M497.6,655.1 v-5.6 M531.3,655.1 v-2.9 M565,655.1 v-5.6 M598.7,655.1 v-2.9 M632.4,655.1 v-5.6 M666.2,655.1 v-2.9 M699.9,655.1 v-5.6 M733.6,655.1 v-2.9 M767.3,655.1 v-5.6 M362.7,655.1 h5.6 M362.7,634.8 h2.9 M362.7,614.4 h5.6 M362.7,594.1 h2.9 M362.7,573.7 h5.6 M362.7,553.4 h2.9 M362.7,533 h5.6 M362.7,512.7 h2.9 M362.7,492.3 h5.6 M362.7,472 h2.9 M362.7,451.6 h5.6 M362.7,431.2 h2.9 M362.7,410.9 h5.6 M362.7,390.6 h2.9 M362.7,370.2 h5.6 M362.7,349.9 h2.9 M362.7,329.5 h5.6 " stroke="rgb(52,62,66)" stroke-width="1.25" fill="none"/><text class="lf" x="361.2" y="677.7" font-size="19.4" text-anchor="middle" fill="rgb(34,34,34)" stroke="rgb(34,34,34)" stroke-width="0.25">-60</text><text class="lf" x="428.6" y="677.7" font-size="19.4" text-anchor="middle" fill="rgb(34,34,34)" stroke="rgb(34,34,34)" stroke-width="0.25">-40</text><text class="lf" x="496.1" y="677.7" font-size="19.4" text-anchor="middle" fill="rgb(34,34,34)" stroke="rgb(34,34,34)" stroke-width="0.25">-20</text><text class="lf" x="565" y="677.7" font-size="19.4" text-anchor="middle" fill="rgb(34,34,34)" stroke="rgb(34,34,34)" stroke-width="0.25">0</text><text class="lf" x="632.4" y="677.7" font-size="19.4" text-anchor="middle" fill="rgb(34,34,34)" stroke="rgb(34,34,34)" stroke-width="0.25">20</text><text class="lf" x="699.9" y="677.7" font-size="19.4" text-anchor="middle" fill="rgb(34,34,34)" stroke="rgb(34,34,34)" stroke-width="0.25">40</text><text class="lf" x="767.3" y="677.7" font-size="19.4" text-anchor="middle" fill="rgb(34,34,34)" stroke="rgb(34,34,34)" stroke-width="0.25">60</text><text class="lf" x="355" y="660.8" font-size="19.4" text-anchor="end" fill="rgb(34,34,34)" stroke="rgb(34,34,34)" stroke-width="0.25">-4</text><text class="lf" x="355" y="620.1" font-size="19.4" text-anchor="end" fill="rgb(34,34,34)" stroke="rgb(34,34,34)" stroke-width="0.25">-2</text><text class="lf" x="355" y="579.4" font-size="19.4" text-anchor="end" fill="rgb(34,34,34)" stroke="rgb(34,34,34)" stroke-width="0.25">0</text><text class="lf" x="355" y="538.7" font-size="19.4" text-anchor="end" fill="rgb(34,34,34)" stroke="rgb(34,34,34)" stroke-width="0.25">2</text><text class="lf" x="355" y="498" font-size="19.4" text-anchor="end" fill="rgb(34,34,34)" stroke="rgb(34,34,34)" stroke-width="0.25">4</text><text class="lf" x="355" y="457.3" font-size="19.4" text-anchor="end" fill="rgb(34,34,34)" stroke="rgb(34,34,34)" stroke-width="0.25">6</text><text class="lf" x="355" y="416.6" font-size="19.4" text-anchor="end" fill="rgb(34,34,34)" stroke="rgb(34,34,34)" stroke-width="0.25">8</text><text class="lf" x="355" y="375.9" font-size="19.4" text-anchor="end" fill="rgb(34,34,34)" stroke="rgb(34,34,34)" stroke-width="0.25">10</text><text class="lf" x="355" y="335.2" font-size="19.4" text-anchor="end" fill="rgb(34,34,34)" stroke="rgb(34,34,34)" stroke-width="0.25">12</text><path d="M664.4,583 H701" stroke="rgb(24,24,24)" stroke-width="2.6" stroke-dasharray="8 7.5 3 6 3 6 3 20" fill="none"/><text class="lf" x="709" y="588.4" font-size="16.3" fill="rgb(36,36,36)" stroke="rgb(36,36,36)" stroke-width="0.25" textLength="42" lengthAdjust="spacingAndGlyphs">500°C</text><path d="M664.4,604 H701" stroke="rgb(224,42,48)" stroke-width="2.5" fill="none"/><text class="lf" x="709" y="609.4" font-size="16.3" fill="rgb(36,36,36)" stroke="rgb(36,36,36)" stroke-width="0.25" textLength="42" lengthAdjust="spacingAndGlyphs">600°C</text><path d="M664.4,625 H701" stroke="rgb(28,28,170)" stroke-width="2.6" stroke-dasharray="12.5 6.5 3 6 8 20" fill="none"/><text class="lf" x="709" y="630.4" font-size="16.3" fill="rgb(36,36,36)" stroke="rgb(36,36,36)" stroke-width="0.25" textLength="42" lengthAdjust="spacingAndGlyphs">700°C</text><text class="lfc" x="445.2" y="711.4" font-size="22.4" fill="rgb(58,58,58)" stroke="rgb(58,58,58)" stroke-width="0.25" textLength="158.6" lengthAdjust="spacingAndGlyphs">距中心截面距离</text><text class="lf" x="604.6" y="711.4" font-size="22.2" fill="rgb(58,58,58)" stroke="rgb(58,58,58)" stroke-width="0.25" textLength="80.4" lengthAdjust="spacingAndGlyphs">/D (mm)</text><g transform="translate(315.6,569.6) rotate(-90)"><text class="lfc" x="0" y="-1" font-size="21.6" fill="rgb(58,58,58)" stroke="rgb(58,58,58)" stroke-width="0.25" textLength="85" lengthAdjust="spacingAndGlyphs">起皱高度</text><text class="lf" x="85.6" y="0" font-size="23.6" fill="rgb(58,58,58)" stroke="rgb(58,58,58)" stroke-width="0.25" textLength="87.6" lengthAdjust="spacingAndGlyphs">/H (mm)</text></g></g>
<text class="ls" transform="translate(787.4,658.4) scale(0.93,1)" font-size="29.4" letter-spacing="0.7" fill="#161616" stroke="#161616" stroke-width="0.35" filter="url(#soft)">(d)</text>
<g><text class="lfc" x="78.6" y="766.8" font-size="24" font-weight="bold" fill="#000">图</text><text class="lf" x="108.6" y="766.8" font-size="24" fill="#000">7</text><text class="lfc" x="129.8" y="766.8" font-size="24" font-weight="bold" fill="#000" textLength="363" lengthAdjust="spacingAndGlyphs">不同温度下相同尺寸试件结果对比</text><text class="lf" x="492.6" y="766.8" font-size="24" font-weight="bold" fill="#000">:</text><text class="lf" x="526.8" y="766.8" font-size="24" fill="#000">(</text><text class="lf" x="538.4" y="766.8" font-size="24" fill="#000">a</text><text class="lf" x="552.9" y="766.8" font-size="24" fill="#000">)</text><text class="lf" x="574.6" y="766.8" font-size="24" fill="#000" textLength="35" lengthAdjust="spacingAndGlyphs">500</text><text class="lf" x="609.6" y="766.8" font-size="24" fill="#000" textLength="25.6" lengthAdjust="spacingAndGlyphs">°C</text><text class="lf" x="645.6" y="766.8" font-size="24" fill="#000">(</text><text class="lf" x="657.4" y="766.8" font-size="24" fill="#000">b</text><text class="lf" x="672.5" y="766.8" font-size="24" fill="#000">)</text><text class="lf" x="694.6" y="766.8" font-size="24" fill="#000" textLength="35" lengthAdjust="spacingAndGlyphs">600</text><text class="lf" x="729.6" y="766.8" font-size="24" fill="#000" textLength="25.6" lengthAdjust="spacingAndGlyphs">°C</text><text class="lf" x="766.8" y="766.8" font-size="24" fill="#000">(</text><text class="lf" x="779.6" y="766.8" font-size="24" fill="#000">c</text><text class="lf" x="793.7" y="766.8" font-size="24" fill="#000">)</text><text class="lf" x="815.4" y="766.8" font-size="24" fill="#000" textLength="35" lengthAdjust="spacingAndGlyphs">700</text><text class="lf" x="850.4" y="766.8" font-size="24" fill="#000" textLength="25.2" lengthAdjust="spacingAndGlyphs">°C</text><text class="lf" x="885.6" y="766.8" font-size="24" fill="#000">(</text><text class="lf" x="897.6" y="766.8" font-size="24" fill="#000">d</text><text class="lf" x="912.7" y="766.8" font-size="24" fill="#000">)</text><text class="lfc" x="934.8" y="766.8" font-size="24" font-weight="bold" fill="#000" textLength="96.6" lengthAdjust="spacingAndGlyphs">截面形状</text><path d="M794.6,777.5 L820.2,752.8 L845,777.5" fill="none" stroke="rgb(196,244,196)" stroke-width="1.3"/><path d="M767.2,753 V762" fill="none" stroke="rgb(252,244,190)" stroke-width="2"/></g>
</svg>
</body></html>
